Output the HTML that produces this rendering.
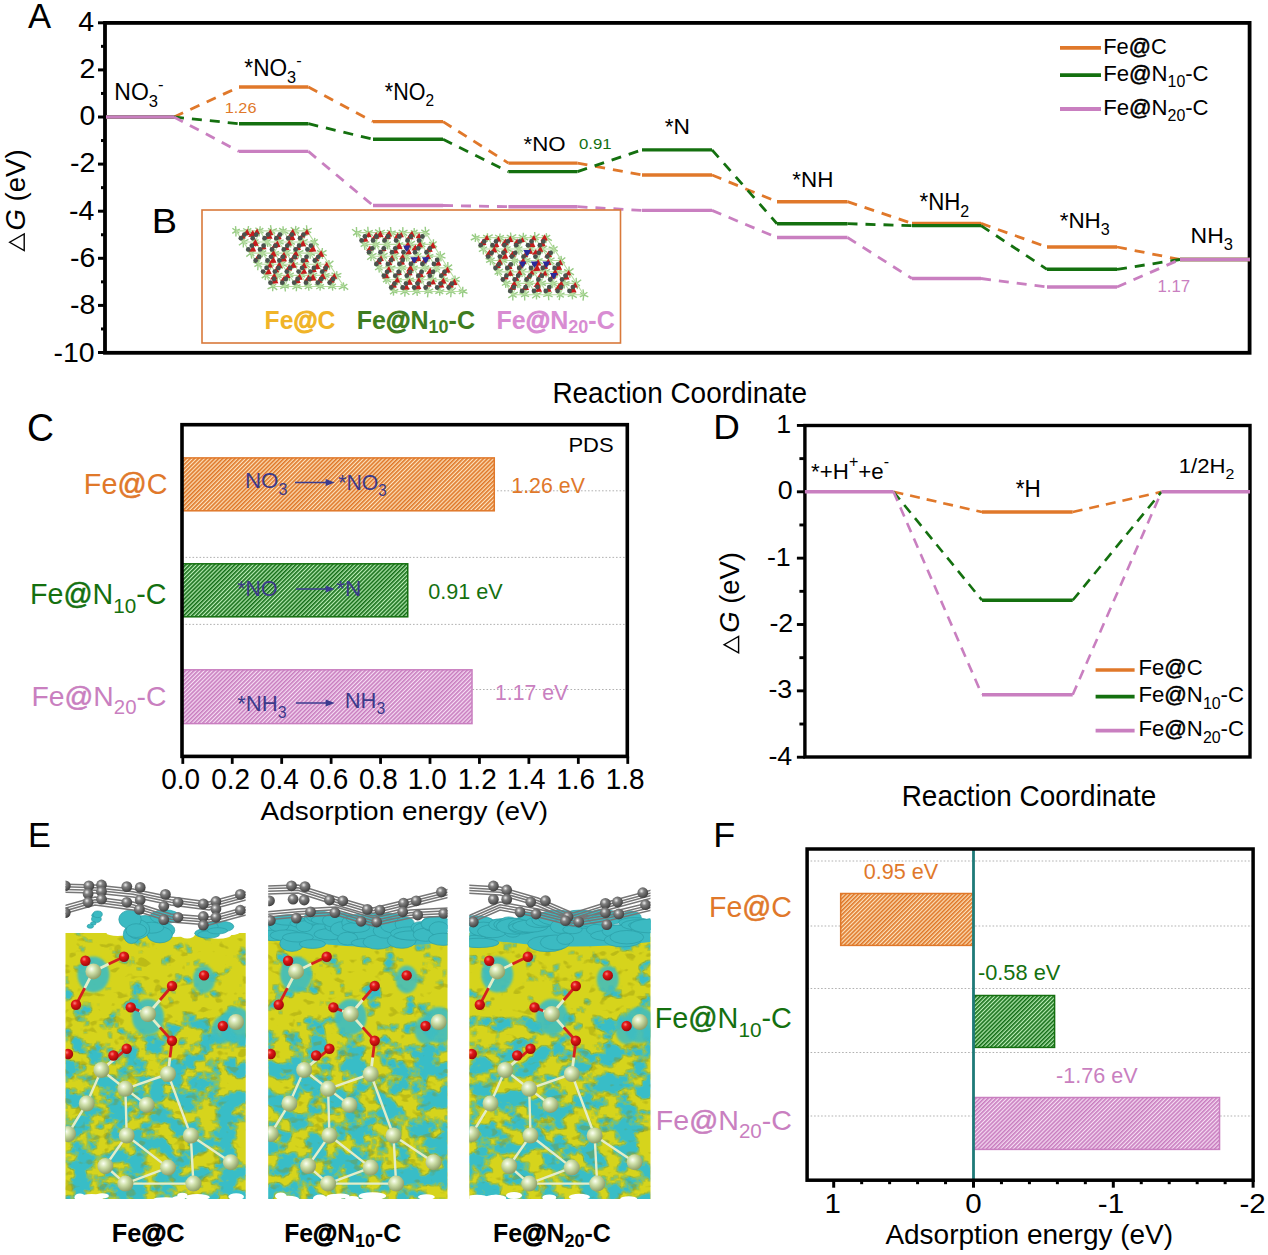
<!DOCTYPE html>
<html><head><meta charset="utf-8"><style>
html,body{margin:0;padding:0;background:#fff;}
svg{display:block;}
text{font-family:"Liberation Sans",sans-serif;}
</style></head><body>
<svg width="1268" height="1255" viewBox="0 0 1268 1255">
<rect width="1268" height="1255" fill="#fff"/>
<defs>
<pattern id="hO" width="2.88" height="2.88" patternUnits="userSpaceOnUse" patternTransform="rotate(-45)"><rect width="2.88" height="2.88" fill="#FCE3BE"/><rect width="2.88" height="1.65" fill="#E0782A"/></pattern>
<pattern id="hG" width="2.88" height="2.88" patternUnits="userSpaceOnUse" patternTransform="rotate(-45)"><rect width="2.88" height="2.88" fill="#B8ECB4"/><rect width="2.88" height="1.65" fill="#17701A"/></pattern>
<pattern id="hP" width="2.88" height="2.88" patternUnits="userSpaceOnUse" patternTransform="rotate(-45)"><rect width="2.88" height="2.88" fill="#F6DDF3"/><rect width="2.88" height="1.65" fill="#C97FC0"/></pattern>
</defs>
<rect x="105.0" y="22.9" width="1144.6" height="329.90000000000003" fill="none" stroke="#000" stroke-width="3.8"/>
<line x1="98.0" y1="22.799999999999997" x2="105.0" y2="22.799999999999997" stroke="#000" stroke-width="3"/>
<line x1="101.0" y1="46.349999999999994" x2="105.0" y2="46.349999999999994" stroke="#000" stroke-width="3"/>
<line x1="98.0" y1="69.9" x2="105.0" y2="69.9" stroke="#000" stroke-width="3"/>
<line x1="101.0" y1="93.45" x2="105.0" y2="93.45" stroke="#000" stroke-width="3"/>
<line x1="98.0" y1="117.0" x2="105.0" y2="117.0" stroke="#000" stroke-width="3"/>
<line x1="101.0" y1="140.55" x2="105.0" y2="140.55" stroke="#000" stroke-width="3"/>
<line x1="98.0" y1="164.1" x2="105.0" y2="164.1" stroke="#000" stroke-width="3"/>
<line x1="101.0" y1="187.65" x2="105.0" y2="187.65" stroke="#000" stroke-width="3"/>
<line x1="98.0" y1="211.2" x2="105.0" y2="211.2" stroke="#000" stroke-width="3"/>
<line x1="101.0" y1="234.75" x2="105.0" y2="234.75" stroke="#000" stroke-width="3"/>
<line x1="98.0" y1="258.3" x2="105.0" y2="258.3" stroke="#000" stroke-width="3"/>
<line x1="101.0" y1="281.85" x2="105.0" y2="281.85" stroke="#000" stroke-width="3"/>
<line x1="98.0" y1="305.4" x2="105.0" y2="305.4" stroke="#000" stroke-width="3"/>
<line x1="101.0" y1="328.95000000000005" x2="105.0" y2="328.95000000000005" stroke="#000" stroke-width="3"/>
<line x1="98.0" y1="352.5" x2="105.0" y2="352.5" stroke="#000" stroke-width="3"/>
<line x1="106" y1="117" x2="174" y2="117" stroke="#E0782A" stroke-width="3.4"/>
<line x1="174" y1="117" x2="239" y2="87" stroke="#E0782A" stroke-width="2.8" stroke-dasharray="10 8"/>
<line x1="239" y1="87" x2="308.4" y2="87" stroke="#E0782A" stroke-width="3.4"/>
<line x1="308.4" y1="87" x2="373" y2="121.6" stroke="#E0782A" stroke-width="2.8" stroke-dasharray="10 8"/>
<line x1="373" y1="121.6" x2="443" y2="121.6" stroke="#E0782A" stroke-width="3.4"/>
<line x1="443" y1="121.6" x2="508.4" y2="163.1" stroke="#E0782A" stroke-width="2.8" stroke-dasharray="10 8"/>
<line x1="508.4" y1="163.1" x2="577.5" y2="163.1" stroke="#E0782A" stroke-width="3.4"/>
<line x1="577.5" y1="163.1" x2="642" y2="175" stroke="#E0782A" stroke-width="2.8" stroke-dasharray="10 8"/>
<line x1="642" y1="175" x2="712" y2="175" stroke="#E0782A" stroke-width="3.4"/>
<line x1="712" y1="175" x2="777" y2="201.7" stroke="#E0782A" stroke-width="2.8" stroke-dasharray="10 8"/>
<line x1="777" y1="201.7" x2="847.5" y2="201.7" stroke="#E0782A" stroke-width="3.4"/>
<line x1="847.5" y1="201.7" x2="912" y2="223.4" stroke="#E0782A" stroke-width="2.8" stroke-dasharray="10 8"/>
<line x1="912" y1="223.4" x2="981" y2="223.4" stroke="#E0782A" stroke-width="3.4"/>
<line x1="981" y1="223.4" x2="1047" y2="247" stroke="#E0782A" stroke-width="2.8" stroke-dasharray="10 8"/>
<line x1="1047" y1="247" x2="1117" y2="247" stroke="#E0782A" stroke-width="3.4"/>
<line x1="1117" y1="247" x2="1180" y2="259.5" stroke="#E0782A" stroke-width="2.8" stroke-dasharray="10 8"/>
<line x1="1180" y1="259.5" x2="1250" y2="259.5" stroke="#E0782A" stroke-width="3.4"/>
<line x1="106" y1="117" x2="174" y2="117" stroke="#14700F" stroke-width="3.4"/>
<line x1="174" y1="117" x2="239" y2="123.7" stroke="#14700F" stroke-width="2.8" stroke-dasharray="10 8"/>
<line x1="239" y1="123.7" x2="308.4" y2="123.7" stroke="#14700F" stroke-width="3.4"/>
<line x1="308.4" y1="123.7" x2="373" y2="139.3" stroke="#14700F" stroke-width="2.8" stroke-dasharray="10 8"/>
<line x1="373" y1="139.3" x2="443" y2="139.3" stroke="#14700F" stroke-width="3.4"/>
<line x1="443" y1="139.3" x2="508.4" y2="171.6" stroke="#14700F" stroke-width="2.8" stroke-dasharray="10 8"/>
<line x1="508.4" y1="171.6" x2="577.5" y2="171.6" stroke="#14700F" stroke-width="3.4"/>
<line x1="577.5" y1="171.6" x2="642" y2="149.9" stroke="#14700F" stroke-width="2.8" stroke-dasharray="10 8"/>
<line x1="642" y1="149.9" x2="712" y2="149.9" stroke="#14700F" stroke-width="3.4"/>
<line x1="712" y1="149.9" x2="777" y2="223.7" stroke="#14700F" stroke-width="2.8" stroke-dasharray="10 8"/>
<line x1="777" y1="223.7" x2="847.5" y2="223.7" stroke="#14700F" stroke-width="3.4"/>
<line x1="847.5" y1="223.7" x2="912" y2="225.6" stroke="#14700F" stroke-width="2.8" stroke-dasharray="10 8"/>
<line x1="912" y1="225.6" x2="981" y2="225.6" stroke="#14700F" stroke-width="3.4"/>
<line x1="981" y1="225.6" x2="1047" y2="269.3" stroke="#14700F" stroke-width="2.8" stroke-dasharray="10 8"/>
<line x1="1047" y1="269.3" x2="1117" y2="269.3" stroke="#14700F" stroke-width="3.4"/>
<line x1="1117" y1="269.3" x2="1180" y2="259.5" stroke="#14700F" stroke-width="2.8" stroke-dasharray="10 8"/>
<line x1="1180" y1="259.5" x2="1250" y2="259.5" stroke="#14700F" stroke-width="3.4"/>
<line x1="106" y1="117" x2="174" y2="117" stroke="#C97FC0" stroke-width="3.4"/>
<line x1="174" y1="117" x2="239" y2="151.4" stroke="#C97FC0" stroke-width="2.8" stroke-dasharray="10 8"/>
<line x1="239" y1="151.4" x2="308.4" y2="151.4" stroke="#C97FC0" stroke-width="3.4"/>
<line x1="308.4" y1="151.4" x2="373" y2="205.5" stroke="#C97FC0" stroke-width="2.8" stroke-dasharray="10 8"/>
<line x1="373" y1="205.5" x2="443" y2="205.5" stroke="#C97FC0" stroke-width="3.4"/>
<line x1="443" y1="205.5" x2="508.4" y2="206.7" stroke="#C97FC0" stroke-width="2.8" stroke-dasharray="10 8"/>
<line x1="508.4" y1="206.7" x2="577.5" y2="206.7" stroke="#C97FC0" stroke-width="3.4"/>
<line x1="577.5" y1="206.7" x2="642" y2="210.4" stroke="#C97FC0" stroke-width="2.8" stroke-dasharray="10 8"/>
<line x1="642" y1="210.4" x2="712" y2="210.4" stroke="#C97FC0" stroke-width="3.4"/>
<line x1="712" y1="210.4" x2="777" y2="237.5" stroke="#C97FC0" stroke-width="2.8" stroke-dasharray="10 8"/>
<line x1="777" y1="237.5" x2="847.5" y2="237.5" stroke="#C97FC0" stroke-width="3.4"/>
<line x1="847.5" y1="237.5" x2="912" y2="278.5" stroke="#C97FC0" stroke-width="2.8" stroke-dasharray="10 8"/>
<line x1="912" y1="278.5" x2="981" y2="278.5" stroke="#C97FC0" stroke-width="3.4"/>
<line x1="981" y1="278.5" x2="1047" y2="287" stroke="#C97FC0" stroke-width="2.8" stroke-dasharray="10 8"/>
<line x1="1047" y1="287" x2="1117" y2="287" stroke="#C97FC0" stroke-width="3.4"/>
<line x1="1117" y1="287" x2="1180" y2="259.5" stroke="#C97FC0" stroke-width="2.8" stroke-dasharray="10 8"/>
<line x1="1180" y1="259.5" x2="1250" y2="259.5" stroke="#C97FC0" stroke-width="3.4"/>
<line x1="1060" y1="47.8" x2="1101" y2="47.8" stroke="#E0782A" stroke-width="3.8"/>
<line x1="1060" y1="75.1" x2="1101" y2="75.1" stroke="#14700F" stroke-width="3.8"/>
<line x1="1060" y1="109" x2="1101" y2="109" stroke="#C97FC0" stroke-width="3.8"/>
<rect x="202" y="210" width="418.5" height="133" fill="#fff" stroke="#D9793A" stroke-width="1.6"/>
<path d="M236.0,230.9l3.3,2.4M236.0,230.9l-0.1,5.5M236.0,230.9l-3.7,2.5M236.0,230.9l-3.6,-2.6M236.0,230.9l-0.5,-4.8M236.0,230.9l3.8,-1.8M247.8,230.9l4.2,2.1M247.8,230.9l-0.6,4.8M247.8,230.9l-4.0,1.7M247.8,230.9l-4.7,-2.4M247.8,230.9l0.7,-4.9M247.8,230.9l3.5,-2.5M259.7,230.9l3.8,2.2M259.7,230.9l-0.6,5.6M259.7,230.9l-3.7,2.7M259.7,230.9l-4.3,-3.1M259.7,230.9l0.5,-4.7M259.7,230.9l3.6,-2.8M271.5,230.9l3.7,2.7M271.5,230.9l0.3,4.8M271.5,230.9l-4.1,2.5M271.5,230.9l-3.4,-2.7M271.5,230.9l-1.0,-5.8M271.5,230.9l5.5,-2.3M283.3,230.9l5.2,2.8M283.3,230.9l-0.7,4.4M283.3,230.9l-5.1,2.4M283.3,230.9l-4.2,-2.8M283.3,230.9l-0.3,-4.7M283.3,230.9l3.4,-2.4M295.2,230.9l3.9,2.4M295.2,230.9l-0.4,4.1M295.2,230.9l-5.0,2.0M295.2,230.9l-4.5,-3.6M295.2,230.9l0.7,-5.1M295.2,230.9l4.2,-3.5M307.0,230.9l4.2,1.8M307.0,230.9l-0.3,5.0M307.0,230.9l-5.0,3.1M307.0,230.9l-4.0,-2.5M307.0,230.9l-0.5,-5.7M307.0,230.9l4.8,-2.8M243.4,242.0l3.9,2.0M243.4,242.0l-0.1,5.6M243.4,242.0l-4.5,3.3M243.4,242.0l-4.4,-3.5M243.4,242.0l0.5,-4.0M243.4,242.0l5.1,-2.6M255.2,242.0l4.2,1.6M255.2,242.0l0.4,5.0M255.2,242.0l-4.2,2.6M255.2,242.0l-3.3,-2.3M255.2,242.0l-0.7,-4.2M255.2,242.0l3.3,-2.5M267.1,242.0l4.4,3.6M267.1,242.0l0.7,5.0M267.1,242.0l-3.9,2.6M267.1,242.0l-4.7,-2.4M267.1,242.0l0.1,-4.7M267.1,242.0l3.8,-2.7M278.9,242.0l4.7,2.0M278.9,242.0l-0.4,4.7M278.9,242.0l-3.4,2.7M278.9,242.0l-4.6,-2.4M278.9,242.0l0.5,-4.7M278.9,242.0l4.8,-2.1M290.7,242.0l4.2,2.3M290.7,242.0l0.0,5.4M290.7,242.0l-4.6,2.8M290.7,242.0l-3.9,-2.2M290.7,242.0l0.1,-5.4M290.7,242.0l3.8,-3.0M302.6,242.0l5.1,2.7M302.6,242.0l-0.7,4.7M302.6,242.0l-5.2,2.1M302.6,242.0l-4.5,-2.1M302.6,242.0l-0.7,-5.6M302.6,242.0l5.2,-2.6M314.4,242.0l4.3,3.1M314.4,242.0l-0.4,5.1M314.4,242.0l-4.1,3.2M314.4,242.0l-4.0,-1.5M314.4,242.0l0.4,-4.1M314.4,242.0l3.3,-2.6M250.8,253.1l3.5,2.7M250.8,253.1l0.9,5.6M250.8,253.1l-4.5,3.5M250.8,253.1l-4.7,-3.1M250.8,253.1l0.8,-5.1M250.8,253.1l3.7,-1.7M262.6,253.1l4.1,2.9M262.6,253.1l-0.3,4.2M262.6,253.1l-5.3,2.5M262.6,253.1l-4.3,-1.7M262.6,253.1l0.1,-5.7M262.6,253.1l3.6,-2.5M274.5,253.1l4.7,2.2M274.5,253.1l-0.4,4.8M274.5,253.1l-4.0,2.6M274.5,253.1l-4.3,-2.2M274.5,253.1l-0.7,-4.9M274.5,253.1l4.5,-1.7M286.3,253.1l3.5,2.5M286.3,253.1l-0.4,5.5M286.3,253.1l-4.5,2.2M286.3,253.1l-4.6,-2.6M286.3,253.1l0.6,-4.3M286.3,253.1l4.3,-3.4M298.1,253.1l3.9,3.1M298.1,253.1l0.1,5.4M298.1,253.1l-3.7,2.7M298.1,253.1l-4.7,-2.1M298.1,253.1l-0.3,-4.5M298.1,253.1l5.3,-2.6M310.0,253.1l4.9,2.4M310.0,253.1l0.2,5.7M310.0,253.1l-4.0,2.2M310.0,253.1l-3.7,-1.7M310.0,253.1l-0.0,-4.8M310.0,253.1l3.8,-2.8M321.8,253.1l5.0,2.5M321.8,253.1l0.7,5.9M321.8,253.1l-4.5,2.6M321.8,253.1l-4.9,-2.8M321.8,253.1l0.6,-5.1M321.8,253.1l4.7,-2.8M258.2,264.3l3.8,2.9M258.2,264.3l-0.5,5.9M258.2,264.3l-3.8,2.3M258.2,264.3l-4.9,-2.3M258.2,264.3l0.4,-5.9M258.2,264.3l4.1,-1.7M270.0,264.3l4.1,1.8M270.0,264.3l0.6,5.4M270.0,264.3l-5.3,2.3M270.0,264.3l-5.2,-2.4M270.0,264.3l-0.3,-4.8M270.0,264.3l3.8,-1.8M281.9,264.3l5.3,2.1M281.9,264.3l0.3,4.7M281.9,264.3l-4.7,2.5M281.9,264.3l-4.4,-1.6M281.9,264.3l-0.1,-5.0M281.9,264.3l4.2,-3.0M293.7,264.3l3.7,3.0M293.7,264.3l-0.1,4.2M293.7,264.3l-4.4,3.0M293.7,264.3l-5.3,-2.2M293.7,264.3l0.6,-4.2M293.7,264.3l4.4,-1.7M305.5,264.3l4.5,3.2M305.5,264.3l0.4,5.3M305.5,264.3l-5.0,2.5M305.5,264.3l-5.0,-2.4M305.5,264.3l0.9,-5.3M305.5,264.3l3.7,-2.1M317.4,264.3l4.1,2.3M317.4,264.3l-0.4,5.3M317.4,264.3l-3.8,2.1M317.4,264.3l-4.4,-2.9M317.4,264.3l-0.6,-5.7M317.4,264.3l3.8,-1.9M329.2,264.3l3.3,2.7M329.2,264.3l0.3,5.4M329.2,264.3l-4.5,2.4M329.2,264.3l-4.1,-2.7M329.2,264.3l-0.3,-4.3M329.2,264.3l4.2,-3.4M265.6,275.4l4.2,2.9M265.6,275.4l-0.4,4.7M265.6,275.4l-3.9,2.7M265.6,275.4l-3.2,-2.5M265.6,275.4l0.0,-4.5M265.6,275.4l4.3,-2.0M277.4,275.4l4.3,2.2M277.4,275.4l-0.1,5.5M277.4,275.4l-4.8,3.1M277.4,275.4l-4.2,-1.7M277.4,275.4l-0.6,-4.2M277.4,275.4l5.0,-2.3M289.3,275.4l4.0,1.8M289.3,275.4l0.2,5.5M289.3,275.4l-5.0,2.2M289.3,275.4l-3.6,-2.3M289.3,275.4l-0.2,-4.4M289.3,275.4l4.5,-2.5M301.1,275.4l4.1,1.8M301.1,275.4l-0.4,4.0M301.1,275.4l-5.3,2.3M301.1,275.4l-3.7,-3.0M301.1,275.4l0.1,-5.2M301.1,275.4l5.3,-2.7M312.9,275.4l3.8,2.6M312.9,275.4l-0.6,4.9M312.9,275.4l-4.8,2.6M312.9,275.4l-5.2,-1.9M312.9,275.4l0.3,-5.0M312.9,275.4l4.3,-2.4M324.8,275.4l4.6,2.0M324.8,275.4l0.8,4.9M324.8,275.4l-4.4,2.2M324.8,275.4l-5.1,-3.1M324.8,275.4l0.6,-4.2M324.8,275.4l4.8,-2.1M336.6,275.4l4.4,1.7M336.6,275.4l0.4,4.1M336.6,275.4l-5.1,2.9M336.6,275.4l-5.1,-2.6M336.6,275.4l0.3,-4.3M336.6,275.4l4.8,-2.0M273.0,286.5l4.2,3.4M273.0,286.5l-0.4,4.7M273.0,286.5l-5.4,2.4M273.0,286.5l-3.9,-2.9M273.0,286.5l0.4,-5.0M273.0,286.5l3.2,-2.5M284.8,286.5l4.1,1.6M284.8,286.5l0.6,5.0M284.8,286.5l-4.6,2.2M284.8,286.5l-4.7,-2.5M284.8,286.5l-0.3,-4.9M284.8,286.5l4.4,-2.0M296.7,286.5l5.3,2.3M296.7,286.5l-0.4,4.7M296.7,286.5l-4.3,2.7M296.7,286.5l-3.8,-2.4M296.7,286.5l-0.8,-4.4M296.7,286.5l3.9,-1.8M308.5,286.5l3.8,2.1M308.5,286.5l0.4,4.3M308.5,286.5l-3.7,2.3M308.5,286.5l-4.0,-1.5M308.5,286.5l-0.6,-4.9M308.5,286.5l3.2,-2.5M320.3,286.5l4.2,2.3M320.3,286.5l-0.3,4.1M320.3,286.5l-4.1,2.5M320.3,286.5l-5.6,-2.1M320.3,286.5l-0.4,-4.2M320.3,286.5l3.7,-2.2M332.2,286.5l4.0,2.5M332.2,286.5l0.5,4.1M332.2,286.5l-4.1,2.0M332.2,286.5l-4.0,-2.9M332.2,286.5l0.7,-4.5M332.2,286.5l3.7,-2.6M344.0,286.5l4.2,3.1M344.0,286.5l0.2,4.2M344.0,286.5l-5.3,2.6M344.0,286.5l-3.4,-2.1M344.0,286.5l-0.7,-4.1M344.0,286.5l3.3,-2.4" stroke="#98CC84" stroke-width="1.4" fill="none"/>
<path d="M236.0,230.9L307.0,230.9M243.4,242.0L314.4,242.0M250.8,253.1L321.8,253.1M258.2,264.3L329.2,264.3M265.6,275.4L336.6,275.4M273.0,286.5L344.0,286.5M236.0,230.9L273.0,286.5M247.8,230.9L284.8,286.5M259.7,230.9L296.7,286.5M271.5,230.9L308.5,286.5M283.3,230.9L320.3,286.5M295.2,230.9L332.2,286.5M307.0,230.9L344.0,286.5M243.4,242.0L247.8,230.9M255.2,242.0L259.7,230.9M267.1,242.0L271.5,230.9M278.9,242.0L283.3,230.9M290.7,242.0L295.2,230.9M302.6,242.0L307.0,230.9M250.8,253.1L255.2,242.0M262.6,253.1L267.1,242.0M274.5,253.1L278.9,242.0M286.3,253.1L290.7,242.0M298.1,253.1L302.6,242.0M310.0,253.1L314.4,242.0M258.2,264.3L262.6,253.1M270.0,264.3L274.5,253.1M281.9,264.3L286.3,253.1M293.7,264.3L298.1,253.1M305.5,264.3L310.0,253.1M317.4,264.3L321.8,253.1M265.6,275.4L270.0,264.3M277.4,275.4L281.9,264.3M289.3,275.4L293.7,264.3M301.1,275.4L305.5,264.3M312.9,275.4L317.4,264.3M324.8,275.4L329.2,264.3M273.0,286.5L277.4,275.4M284.8,286.5L289.3,275.4M296.7,286.5L301.1,275.4M308.5,286.5L312.9,275.4M320.3,286.5L324.8,275.4M332.2,286.5L336.6,275.4" stroke="#B6DCA0" stroke-width="1.1" fill="none"/>
<path d="M239.4,238.8L243.1,233.3L245.5,238.5Z" fill="#C61C1C"/>
<path d="M242.9,235.4L247.3,228.8L250.2,235.0Z" fill="#C61C1C"/>
<path d="M248.2,237.0L252.9,230.0L256.0,236.6Z" fill="#C61C1C"/>
<path d="M253.4,234.2L257.2,228.5L259.8,233.9Z" fill="#C61C1C"/>
<path d="M264.6,239.1L269.4,232.0L272.6,238.7Z" fill="#C61C1C"/>
<path d="M266.3,235.3L270.5,229.1L273.3,235.0Z" fill="#C61C1C"/>
<path d="M274.1,239.7L278.7,232.9L281.7,239.3Z" fill="#C61C1C"/>
<path d="M287.5,240.3L292.2,233.2L295.3,239.9Z" fill="#C61C1C"/>
<path d="M288.2,235.9L292.9,228.8L296.1,235.5Z" fill="#C61C1C"/>
<path d="M299.1,237.7L302.8,232.2L305.2,237.4Z" fill="#C61C1C"/>
<path d="M303.1,234.8L307.1,228.9L309.7,234.5Z" fill="#C61C1C"/>
<path d="M248.9,251.8L253.3,245.3L256.2,251.4Z" fill="#C61C1C"/>
<path d="M250.8,246.2L255.5,239.1L258.7,245.8Z" fill="#C61C1C"/>
<path d="M260.3,249.5L264.0,243.9L266.5,249.2Z" fill="#C61C1C"/>
<path d="M271.2,248.1L275.1,242.2L277.8,247.8Z" fill="#C61C1C"/>
<path d="M272.9,247.4L277.5,240.5L280.6,247.0Z" fill="#C61C1C"/>
<path d="M283.2,250.3L286.9,244.7L289.4,250.0Z" fill="#C61C1C"/>
<path d="M285.4,245.8L289.4,239.7L292.1,245.5Z" fill="#C61C1C"/>
<path d="M294.4,250.3L298.4,244.3L301.0,250.0Z" fill="#C61C1C"/>
<path d="M298.7,246.7L303.2,240.0L306.1,246.3Z" fill="#C61C1C"/>
<path d="M308.5,251.9L313.2,244.8L316.3,251.5Z" fill="#C61C1C"/>
<path d="M254.5,259.4L258.3,253.7L260.8,259.1Z" fill="#C61C1C"/>
<path d="M269.0,263.1L273.5,256.4L276.5,262.7Z" fill="#C61C1C"/>
<path d="M269.2,256.8L273.7,250.1L276.7,256.4Z" fill="#C61C1C"/>
<path d="M279.3,261.7L283.9,254.8L286.9,261.3Z" fill="#C61C1C"/>
<path d="M279.9,258.1L284.1,251.7L287.0,257.7Z" fill="#C61C1C"/>
<path d="M290.1,259.6L294.9,252.6L298.0,259.2Z" fill="#C61C1C"/>
<path d="M292.1,256.4L296.1,250.3L298.8,256.0Z" fill="#C61C1C"/>
<path d="M302.0,262.3L306.1,256.1L308.9,261.9Z" fill="#C61C1C"/>
<path d="M312.7,261.5L316.6,255.7L319.2,261.1Z" fill="#C61C1C"/>
<path d="M316.7,257.1L321.2,250.3L324.3,256.7Z" fill="#C61C1C"/>
<path d="M264.7,274.4L268.9,268.1L271.7,274.0Z" fill="#C61C1C"/>
<path d="M266.4,267.8L270.3,261.9L272.9,267.5Z" fill="#C61C1C"/>
<path d="M272.9,272.5L276.7,266.8L279.2,272.2Z" fill="#C61C1C"/>
<path d="M275.1,268.3L279.6,261.6L282.5,268.0Z" fill="#C61C1C"/>
<path d="M284.9,270.8L289.2,264.3L292.1,270.5Z" fill="#C61C1C"/>
<path d="M289.2,268.1L293.6,261.4L296.6,267.7Z" fill="#C61C1C"/>
<path d="M300.4,274.0L304.4,267.9L307.1,273.6Z" fill="#C61C1C"/>
<path d="M300.1,268.4L304.3,262.1L307.1,268.1Z" fill="#C61C1C"/>
<path d="M310.4,272.5L314.2,266.8L316.7,272.1Z" fill="#C61C1C"/>
<path d="M312.9,269.5L317.3,262.8L320.3,269.1Z" fill="#C61C1C"/>
<path d="M321.4,271.6L325.0,266.2L327.5,271.3Z" fill="#C61C1C"/>
<path d="M322.7,267.9L326.8,261.7L329.6,267.6Z" fill="#C61C1C"/>
<path d="M270.9,283.7L275.4,276.9L278.4,283.3Z" fill="#C61C1C"/>
<path d="M270.0,279.4L274.5,272.8L277.4,279.1Z" fill="#C61C1C"/>
<path d="M280.4,281.0L284.2,275.4L286.6,280.7Z" fill="#C61C1C"/>
<path d="M284.0,278.3L287.9,272.5L290.5,278.0Z" fill="#C61C1C"/>
<path d="M293.0,283.5L297.6,276.6L300.7,283.1Z" fill="#C61C1C"/>
<path d="M295.4,280.1L299.8,273.5L302.7,279.7Z" fill="#C61C1C"/>
<path d="M303.9,281.5L308.6,274.5L311.7,281.1Z" fill="#C61C1C"/>
<path d="M308.5,280.8L313.2,273.8L316.3,280.4Z" fill="#C61C1C"/>
<path d="M315.7,283.2L319.9,277.0L322.6,282.8Z" fill="#C61C1C"/>
<path d="M318.2,279.5L322.9,272.5L326.0,279.1Z" fill="#C61C1C"/>
<path d="M327.2,283.0L331.7,276.3L334.7,282.6Z" fill="#C61C1C"/>
<path d="M330.5,279.1L334.5,273.1L337.2,278.8Z" fill="#C61C1C"/>
<circle cx="244.4" cy="234.6" r="2.4" fill="#4A524D"/>
<circle cx="240.9" cy="238.2" r="2.4" fill="#4A524D"/>
<circle cx="256.2" cy="234.6" r="2.4" fill="#4A524D"/>
<circle cx="252.7" cy="238.2" r="2.4" fill="#4A524D"/>
<circle cx="268.0" cy="234.6" r="2.4" fill="#4A524D"/>
<circle cx="264.6" cy="238.2" r="2.4" fill="#4A524D"/>
<circle cx="279.9" cy="234.6" r="2.4" fill="#4A524D"/>
<circle cx="276.4" cy="238.2" r="2.4" fill="#4A524D"/>
<circle cx="291.7" cy="234.6" r="2.4" fill="#4A524D"/>
<circle cx="288.2" cy="238.2" r="2.4" fill="#4A524D"/>
<circle cx="303.5" cy="234.6" r="2.4" fill="#4A524D"/>
<circle cx="300.1" cy="238.2" r="2.4" fill="#4A524D"/>
<circle cx="251.8" cy="245.7" r="2.4" fill="#4A524D"/>
<circle cx="248.3" cy="249.4" r="2.4" fill="#4A524D"/>
<circle cx="263.6" cy="245.7" r="2.4" fill="#4A524D"/>
<circle cx="260.1" cy="249.4" r="2.4" fill="#4A524D"/>
<circle cx="275.4" cy="245.7" r="2.4" fill="#4A524D"/>
<circle cx="272.0" cy="249.4" r="2.4" fill="#4A524D"/>
<circle cx="287.3" cy="245.7" r="2.4" fill="#4A524D"/>
<circle cx="283.8" cy="249.4" r="2.4" fill="#4A524D"/>
<circle cx="299.1" cy="245.7" r="2.4" fill="#4A524D"/>
<circle cx="295.6" cy="249.4" r="2.4" fill="#4A524D"/>
<circle cx="310.9" cy="245.7" r="2.4" fill="#4A524D"/>
<circle cx="307.5" cy="249.4" r="2.4" fill="#4A524D"/>
<circle cx="259.2" cy="256.8" r="2.4" fill="#4A524D"/>
<circle cx="255.7" cy="260.5" r="2.4" fill="#4A524D"/>
<circle cx="271.0" cy="256.8" r="2.4" fill="#4A524D"/>
<circle cx="267.5" cy="260.5" r="2.4" fill="#4A524D"/>
<circle cx="282.8" cy="256.8" r="2.4" fill="#4A524D"/>
<circle cx="279.4" cy="260.5" r="2.4" fill="#4A524D"/>
<circle cx="294.7" cy="256.8" r="2.4" fill="#4A524D"/>
<circle cx="291.2" cy="260.5" r="2.4" fill="#4A524D"/>
<circle cx="306.5" cy="256.8" r="2.4" fill="#4A524D"/>
<circle cx="303.0" cy="260.5" r="2.4" fill="#4A524D"/>
<circle cx="318.3" cy="256.8" r="2.4" fill="#4A524D"/>
<circle cx="314.9" cy="260.5" r="2.4" fill="#4A524D"/>
<circle cx="266.6" cy="267.9" r="2.4" fill="#4A524D"/>
<circle cx="263.1" cy="271.6" r="2.4" fill="#4A524D"/>
<circle cx="278.4" cy="267.9" r="2.4" fill="#4A524D"/>
<circle cx="274.9" cy="271.6" r="2.4" fill="#4A524D"/>
<circle cx="290.2" cy="267.9" r="2.4" fill="#4A524D"/>
<circle cx="286.8" cy="271.6" r="2.4" fill="#4A524D"/>
<circle cx="302.1" cy="267.9" r="2.4" fill="#4A524D"/>
<circle cx="298.6" cy="271.6" r="2.4" fill="#4A524D"/>
<circle cx="313.9" cy="267.9" r="2.4" fill="#4A524D"/>
<circle cx="310.4" cy="271.6" r="2.4" fill="#4A524D"/>
<circle cx="325.7" cy="267.9" r="2.4" fill="#4A524D"/>
<circle cx="322.3" cy="271.6" r="2.4" fill="#4A524D"/>
<circle cx="274.0" cy="279.0" r="2.4" fill="#4A524D"/>
<circle cx="270.5" cy="282.7" r="2.4" fill="#4A524D"/>
<circle cx="285.8" cy="279.0" r="2.4" fill="#4A524D"/>
<circle cx="282.3" cy="282.7" r="2.4" fill="#4A524D"/>
<circle cx="297.6" cy="279.0" r="2.4" fill="#4A524D"/>
<circle cx="294.2" cy="282.7" r="2.4" fill="#4A524D"/>
<circle cx="309.5" cy="279.0" r="2.4" fill="#4A524D"/>
<circle cx="306.0" cy="282.7" r="2.4" fill="#4A524D"/>
<circle cx="321.3" cy="279.0" r="2.4" fill="#4A524D"/>
<circle cx="317.8" cy="282.7" r="2.4" fill="#4A524D"/>
<circle cx="333.1" cy="279.0" r="2.4" fill="#4A524D"/>
<circle cx="329.7" cy="282.7" r="2.4" fill="#4A524D"/>
<path d="M356.7,232.6l4.1,3.3M356.7,232.6l0.0,4.7M356.7,232.6l-3.6,2.8M356.7,232.6l-4.7,-3.3M356.7,232.6l-0.3,-5.6M356.7,232.6l4.9,-2.2M368.2,232.6l4.6,3.0M368.2,232.6l0.3,5.4M368.2,232.6l-4.1,2.8M368.2,232.6l-4.4,-3.1M368.2,232.6l-0.4,-5.9M368.2,232.6l4.6,-2.3M379.7,232.6l4.8,1.8M379.7,232.6l0.5,5.3M379.7,232.6l-4.8,2.9M379.7,232.6l-4.7,-3.0M379.7,232.6l-0.3,-5.3M379.7,232.6l5.1,-2.4M391.2,232.6l5.1,2.6M391.2,232.6l-0.7,5.3M391.2,232.6l-5.5,2.1M391.2,232.6l-4.4,-2.6M391.2,232.6l-0.7,-5.6M391.2,232.6l4.6,-1.8M402.7,232.6l4.5,3.0M402.7,232.6l-0.3,4.3M402.7,232.6l-4.7,2.1M402.7,232.6l-4.0,-2.7M402.7,232.6l0.2,-5.5M402.7,232.6l4.8,-2.5M414.2,232.6l4.0,1.5M414.2,232.6l0.1,5.3M414.2,232.6l-4.4,3.1M414.2,232.6l-3.4,-2.2M414.2,232.6l-0.0,-4.5M414.2,232.6l3.3,-2.7M425.7,232.6l3.9,1.9M425.7,232.6l0.4,4.0M425.7,232.6l-4.1,2.4M425.7,232.6l-4.4,-2.8M425.7,232.6l-0.5,-5.8M425.7,232.6l3.7,-3.1M364.1,244.4l4.3,2.1M364.1,244.4l0.8,5.6M364.1,244.4l-3.4,2.2M364.1,244.4l-3.5,-2.2M364.1,244.4l0.1,-4.7M364.1,244.4l5.2,-2.8M375.6,244.4l3.9,2.9M375.6,244.4l-0.6,5.3M375.6,244.4l-3.6,2.3M375.6,244.4l-4.4,-2.7M375.6,244.4l0.9,-5.9M375.6,244.4l4.2,-2.2M387.1,244.4l3.2,2.5M387.1,244.4l0.7,5.1M387.1,244.4l-3.8,2.0M387.1,244.4l-4.9,-3.1M387.1,244.4l-0.2,-4.9M387.1,244.4l3.7,-2.7M398.6,244.4l3.7,3.0M398.6,244.4l-0.9,5.8M398.6,244.4l-4.0,2.1M398.6,244.4l-3.8,-3.2M398.6,244.4l-0.1,-4.6M398.6,244.4l4.7,-1.7M410.1,244.4l4.5,2.2M410.1,244.4l0.7,5.2M410.1,244.4l-3.9,2.4M410.1,244.4l-4.6,-3.3M410.1,244.4l-0.9,-5.0M410.1,244.4l4.8,-3.3M421.6,244.4l3.7,2.6M421.6,244.4l0.3,4.3M421.6,244.4l-4.3,1.6M421.6,244.4l-4.2,-2.6M421.6,244.4l0.3,-5.2M421.6,244.4l3.8,-1.8M433.1,244.4l3.8,2.7M433.1,244.4l-0.1,4.7M433.1,244.4l-4.2,2.8M433.1,244.4l-4.1,-2.3M433.1,244.4l0.4,-5.2M433.1,244.4l3.5,-2.9M371.5,256.2l5.1,2.8M371.5,256.2l-0.7,5.0M371.5,256.2l-4.3,3.6M371.5,256.2l-4.5,-2.5M371.5,256.2l0.4,-5.3M371.5,256.2l5.0,-2.9M383.0,256.2l4.2,2.2M383.0,256.2l-0.5,4.4M383.0,256.2l-4.7,3.2M383.0,256.2l-5.3,-2.1M383.0,256.2l0.3,-4.9M383.0,256.2l4.6,-3.1M394.5,256.2l3.4,2.7M394.5,256.2l0.0,5.1M394.5,256.2l-4.0,2.3M394.5,256.2l-4.8,-2.0M394.5,256.2l0.4,-4.1M394.5,256.2l4.6,-3.3M406.0,256.2l4.3,3.1M406.0,256.2l0.9,5.4M406.0,256.2l-5.6,2.1M406.0,256.2l-3.4,-2.3M406.0,256.2l0.5,-4.4M406.0,256.2l5.3,-2.7M417.5,256.2l3.5,2.4M417.5,256.2l0.4,5.8M417.5,256.2l-4.2,3.1M417.5,256.2l-3.8,-2.0M417.5,256.2l0.2,-4.1M417.5,256.2l3.8,-2.9M429.0,256.2l3.8,1.5M429.0,256.2l-0.1,5.5M429.0,256.2l-3.9,1.6M429.0,256.2l-4.1,-2.2M429.0,256.2l0.2,-5.0M429.0,256.2l4.4,-1.7M440.5,256.2l5.0,1.9M440.5,256.2l0.6,5.2M440.5,256.2l-5.0,2.9M440.5,256.2l-4.5,-2.7M440.5,256.2l-0.4,-5.1M440.5,256.2l4.5,-3.1M378.9,267.9l3.7,2.2M378.9,267.9l0.4,4.7M378.9,267.9l-3.9,1.9M378.9,267.9l-4.4,-3.0M378.9,267.9l-0.8,-5.3M378.9,267.9l3.3,-2.6M390.4,267.9l3.8,2.4M390.4,267.9l-0.7,4.9M390.4,267.9l-4.7,3.1M390.4,267.9l-5.1,-1.9M390.4,267.9l-0.7,-4.2M390.4,267.9l5.0,-1.9M401.9,267.9l3.9,1.8M401.9,267.9l-0.9,5.3M401.9,267.9l-3.9,1.7M401.9,267.9l-4.0,-2.5M401.9,267.9l-0.4,-4.6M401.9,267.9l4.2,-2.2M413.4,267.9l3.8,2.0M413.4,267.9l-0.6,5.3M413.4,267.9l-4.4,2.0M413.4,267.9l-4.0,-3.0M413.4,267.9l0.2,-5.1M413.4,267.9l4.3,-2.0M424.9,267.9l3.8,1.5M424.9,267.9l0.4,4.1M424.9,267.9l-4.6,1.9M424.9,267.9l-3.3,-2.3M424.9,267.9l-0.1,-5.8M424.9,267.9l4.3,-2.3M436.4,267.9l3.7,2.1M436.4,267.9l0.5,4.3M436.4,267.9l-4.0,2.6M436.4,267.9l-3.4,-2.6M436.4,267.9l-0.4,-4.5M436.4,267.9l3.7,-2.7M447.9,267.9l4.5,2.1M447.9,267.9l1.0,5.8M447.9,267.9l-4.9,3.2M447.9,267.9l-4.4,-3.0M447.9,267.9l-0.1,-5.9M447.9,267.9l4.2,-3.3M386.3,279.7l4.8,2.3M386.3,279.7l-0.3,4.3M386.3,279.7l-3.3,2.4M386.3,279.7l-3.8,-1.7M386.3,279.7l-0.2,-5.9M386.3,279.7l3.9,-2.5M397.8,279.7l4.0,2.2M397.8,279.7l-0.4,5.4M397.8,279.7l-3.6,2.7M397.8,279.7l-4.9,-3.2M397.8,279.7l0.2,-4.9M397.8,279.7l3.8,-1.4M409.3,279.7l5.2,2.0M409.3,279.7l0.1,4.1M409.3,279.7l-5.2,2.9M409.3,279.7l-4.1,-2.4M409.3,279.7l-0.6,-4.1M409.3,279.7l4.6,-1.9M420.8,279.7l3.2,2.6M420.8,279.7l0.4,4.1M420.8,279.7l-3.5,2.2M420.8,279.7l-4.4,-2.0M420.8,279.7l-0.3,-4.1M420.8,279.7l4.6,-3.8M432.3,279.7l4.6,2.0M432.3,279.7l0.2,5.1M432.3,279.7l-3.6,2.9M432.3,279.7l-4.7,-1.9M432.3,279.7l0.8,-5.1M432.3,279.7l4.1,-1.7M443.8,279.7l4.8,1.8M443.8,279.7l0.0,5.1M443.8,279.7l-4.4,2.8M443.8,279.7l-4.8,-3.3M443.8,279.7l-0.3,-4.9M443.8,279.7l4.1,-1.8M455.3,279.7l4.3,1.8M455.3,279.7l0.8,5.5M455.3,279.7l-4.2,1.9M455.3,279.7l-3.8,-1.6M455.3,279.7l-0.4,-4.2M455.3,279.7l4.4,-2.7M393.7,291.5l3.7,1.7M393.7,291.5l-0.3,4.1M393.7,291.5l-3.7,2.7M393.7,291.5l-3.7,-1.9M393.7,291.5l-0.1,-4.6M393.7,291.5l4.6,-2.2M405.2,291.5l4.2,3.3M405.2,291.5l-0.5,5.1M405.2,291.5l-4.8,2.9M405.2,291.5l-5.0,-3.2M405.2,291.5l0.4,-5.4M405.2,291.5l4.6,-3.2M416.7,291.5l3.8,2.0M416.7,291.5l0.7,4.3M416.7,291.5l-4.4,3.1M416.7,291.5l-3.7,-1.8M416.7,291.5l0.5,-5.1M416.7,291.5l3.2,-2.6M428.2,291.5l4.4,1.8M428.2,291.5l-0.7,5.9M428.2,291.5l-3.9,2.1M428.2,291.5l-4.1,-2.3M428.2,291.5l-0.2,-4.0M428.2,291.5l5.0,-2.7M439.7,291.5l3.5,2.4M439.7,291.5l-0.0,4.3M439.7,291.5l-4.4,2.1M439.7,291.5l-4.4,-3.5M439.7,291.5l-0.6,-4.6M439.7,291.5l4.6,-1.8M451.2,291.5l4.3,2.3M451.2,291.5l-0.5,5.8M451.2,291.5l-5.2,2.9M451.2,291.5l-3.6,-2.2M451.2,291.5l0.5,-4.8M451.2,291.5l4.6,-3.7M462.7,291.5l4.8,1.8M462.7,291.5l0.0,5.8M462.7,291.5l-3.8,2.4M462.7,291.5l-4.0,-1.9M462.7,291.5l0.1,-4.7M462.7,291.5l4.1,-1.9" stroke="#98CC84" stroke-width="1.4" fill="none"/>
<path d="M356.7,232.6L425.7,232.6M364.1,244.4L433.1,244.4M371.5,256.2L440.5,256.2M378.9,267.9L447.9,267.9M386.3,279.7L455.3,279.7M393.7,291.5L462.7,291.5M356.7,232.6L393.7,291.5M368.2,232.6L405.2,291.5M379.7,232.6L416.7,291.5M391.2,232.6L428.2,291.5M402.7,232.6L439.7,291.5M414.2,232.6L451.2,291.5M425.7,232.6L462.7,291.5M364.1,244.4L368.2,232.6M375.6,244.4L379.7,232.6M387.1,244.4L391.2,232.6M398.6,244.4L402.7,232.6M410.1,244.4L414.2,232.6M421.6,244.4L425.7,232.6M371.5,256.2L375.6,244.4M383.0,256.2L387.1,244.4M394.5,256.2L398.6,244.4M406.0,256.2L410.1,244.4M417.5,256.2L421.6,244.4M429.0,256.2L433.1,244.4M378.9,267.9L383.0,256.2M390.4,267.9L394.5,256.2M401.9,267.9L406.0,256.2M413.4,267.9L417.5,256.2M424.9,267.9L429.0,256.2M436.4,267.9L440.5,256.2M386.3,279.7L390.4,267.9M397.8,279.7L401.9,267.9M409.3,279.7L413.4,267.9M420.8,279.7L424.9,267.9M432.3,279.7L436.4,267.9M443.8,279.7L447.9,267.9M393.7,291.5L397.8,279.7M405.2,291.5L409.3,279.7M416.7,291.5L420.8,279.7M428.2,291.5L432.3,279.7M439.7,291.5L443.8,279.7M451.2,291.5L455.3,279.7" stroke="#B6DCA0" stroke-width="1.1" fill="none"/>
<path d="M361.6,242.0L365.7,235.9L368.3,241.6Z" fill="#C61C1C"/>
<path d="M365.1,237.2L369.0,231.4L371.6,236.9Z" fill="#C61C1C"/>
<path d="M371.4,239.1L376.2,231.9L379.4,238.7Z" fill="#C61C1C"/>
<path d="M375.8,237.4L380.5,230.5L383.5,237.0Z" fill="#C61C1C"/>
<path d="M383.2,239.4L387.9,232.4L390.9,239.0Z" fill="#C61C1C"/>
<path d="M385.0,237.0L389.3,230.5L392.2,236.6Z" fill="#C61C1C"/>
<path d="M393.8,238.6L397.8,232.5L400.6,238.2Z" fill="#C61C1C"/>
<path d="M397.6,237.5L401.4,231.9L403.9,237.2Z" fill="#C61C1C"/>
<path d="M405.9,239.6L410.5,232.7L413.6,239.2Z" fill="#C61C1C"/>
<path d="M407.9,237.1L412.1,230.8L414.9,236.7Z" fill="#C61C1C"/>
<path d="M415.5,238.3L419.2,232.8L421.6,238.0Z" fill="#C61C1C"/>
<path d="M366.2,251.1L370.0,245.4L372.6,250.8Z" fill="#C61C1C"/>
<path d="M380.3,251.4L384.0,245.9L386.5,251.1Z" fill="#C61C1C"/>
<path d="M391.2,253.7L395.7,247.0L398.6,253.3Z" fill="#C61C1C"/>
<path d="M394.7,249.3L399.4,242.3L402.5,248.9Z" fill="#C61C1C"/>
<path d="M405.3,254.4L409.2,248.6L411.7,254.0Z" fill="#C61C1C"/>
<path d="M403.6,248.0L408.1,241.2L411.2,247.6Z" fill="#C61C1C"/>
<path d="M411.4,250.5L415.4,244.6L418.1,250.2Z" fill="#C61C1C"/>
<path d="M415.8,247.6L420.2,240.9L423.1,247.2Z" fill="#C61C1C"/>
<path d="M425.0,252.2L429.7,245.3L432.7,251.8Z" fill="#C61C1C"/>
<path d="M428.8,248.6L433.1,242.1L436.0,248.3Z" fill="#C61C1C"/>
<path d="M374.2,264.6L378.7,257.8L381.8,264.2Z" fill="#C61C1C"/>
<path d="M377.0,261.4L381.1,255.3L383.8,261.1Z" fill="#C61C1C"/>
<path d="M386.2,265.3L389.8,259.9L392.3,265.0Z" fill="#C61C1C"/>
<path d="M388.0,261.1L392.2,254.7L395.0,260.7Z" fill="#C61C1C"/>
<path d="M397.8,264.9L402.1,258.5L405.0,264.6Z" fill="#C61C1C"/>
<path d="M399.0,259.4L402.8,253.7L405.4,259.1Z" fill="#C61C1C"/>
<path d="M410.4,263.0L414.5,256.9L417.2,262.7Z" fill="#C61C1C"/>
<path d="M414.6,261.3L418.5,255.3L421.2,261.0Z" fill="#C61C1C"/>
<path d="M420.7,263.5L424.3,258.0L426.7,263.2Z" fill="#C61C1C"/>
<path d="M424.3,259.3L428.3,253.4L430.9,259.0Z" fill="#C61C1C"/>
<path d="M434.5,265.8L438.6,259.7L441.3,265.5Z" fill="#C61C1C"/>
<path d="M382.3,278.4L386.5,272.1L389.2,278.0Z" fill="#C61C1C"/>
<path d="M384.5,272.6L389.0,265.9L392.0,272.2Z" fill="#C61C1C"/>
<path d="M395.1,275.5L399.2,269.3L401.9,275.1Z" fill="#C61C1C"/>
<path d="M404.7,275.7L409.4,268.6L412.6,275.3Z" fill="#C61C1C"/>
<path d="M406.1,271.4L410.7,264.5L413.7,271.0Z" fill="#C61C1C"/>
<path d="M416.0,277.5L420.7,270.4L423.8,277.1Z" fill="#C61C1C"/>
<path d="M425.9,274.3L430.3,267.6L433.2,273.9Z" fill="#C61C1C"/>
<path d="M439.7,276.0L444.1,269.3L447.1,275.6Z" fill="#C61C1C"/>
<path d="M443.4,273.0L447.6,266.6L450.5,272.6Z" fill="#C61C1C"/>
<path d="M389.3,287.9L393.8,281.1L396.9,287.5Z" fill="#C61C1C"/>
<path d="M393.4,282.7L397.5,276.7L400.1,282.4Z" fill="#C61C1C"/>
<path d="M402.3,289.7L406.6,283.3L409.5,289.4Z" fill="#C61C1C"/>
<path d="M405.3,285.1L409.7,278.5L412.7,284.8Z" fill="#C61C1C"/>
<path d="M414.2,289.4L418.5,283.1L421.3,289.1Z" fill="#C61C1C"/>
<path d="M415.0,283.0L418.9,277.0L421.6,282.6Z" fill="#C61C1C"/>
<path d="M425.5,286.8L429.1,281.3L431.6,286.5Z" fill="#C61C1C"/>
<path d="M429.7,284.5L433.4,278.9L435.9,284.2Z" fill="#C61C1C"/>
<path d="M437.6,287.7L441.6,281.7L444.3,287.4Z" fill="#C61C1C"/>
<path d="M439.2,283.9L443.5,277.5L446.4,283.6Z" fill="#C61C1C"/>
<path d="M446.2,287.8L450.7,281.0L453.7,287.4Z" fill="#C61C1C"/>
<path d="M450.1,285.2L454.6,278.6L457.5,284.9Z" fill="#C61C1C"/>
<circle cx="364.9" cy="236.5" r="2.4" fill="#4A524D"/>
<circle cx="361.6" cy="240.4" r="2.4" fill="#4A524D"/>
<circle cx="376.4" cy="236.5" r="2.4" fill="#4A524D"/>
<circle cx="373.1" cy="240.4" r="2.4" fill="#4A524D"/>
<circle cx="387.9" cy="236.5" r="2.4" fill="#4A524D"/>
<circle cx="384.6" cy="240.4" r="2.4" fill="#4A524D"/>
<circle cx="399.4" cy="236.5" r="2.4" fill="#4A524D"/>
<circle cx="396.1" cy="240.4" r="2.4" fill="#4A524D"/>
<circle cx="410.9" cy="236.5" r="2.4" fill="#4A524D"/>
<circle cx="407.6" cy="240.4" r="2.4" fill="#4A524D"/>
<circle cx="422.4" cy="236.5" r="2.4" fill="#4A524D"/>
<circle cx="419.1" cy="240.4" r="2.4" fill="#4A524D"/>
<circle cx="372.3" cy="248.3" r="2.4" fill="#4A524D"/>
<circle cx="369.0" cy="252.2" r="2.4" fill="#4A524D"/>
<circle cx="383.8" cy="248.3" r="2.4" fill="#4A524D"/>
<circle cx="380.5" cy="252.2" r="2.4" fill="#4A524D"/>
<circle cx="395.3" cy="248.3" r="2.4" fill="#4A524D"/>
<circle cx="392.0" cy="252.2" r="2.4" fill="#4A524D"/>
<circle cx="406.8" cy="248.3" r="2.4" fill="#4A524D"/>
<circle cx="403.5" cy="252.2" r="2.4" fill="#4A524D"/>
<circle cx="418.3" cy="248.3" r="2.4" fill="#4A524D"/>
<circle cx="415.0" cy="252.2" r="2.4" fill="#4A524D"/>
<circle cx="429.8" cy="248.3" r="2.4" fill="#4A524D"/>
<circle cx="426.5" cy="252.2" r="2.4" fill="#4A524D"/>
<circle cx="379.7" cy="260.0" r="2.4" fill="#4A524D"/>
<circle cx="376.4" cy="263.9" r="2.4" fill="#4A524D"/>
<circle cx="391.2" cy="260.0" r="2.4" fill="#4A524D"/>
<circle cx="387.9" cy="263.9" r="2.4" fill="#4A524D"/>
<circle cx="402.7" cy="260.0" r="2.4" fill="#4A524D"/>
<circle cx="399.4" cy="263.9" r="2.4" fill="#4A524D"/>
<circle cx="414.2" cy="260.0" r="2.4" fill="#4A524D"/>
<circle cx="410.9" cy="263.9" r="2.4" fill="#4A524D"/>
<circle cx="425.7" cy="260.0" r="2.4" fill="#4A524D"/>
<circle cx="422.4" cy="263.9" r="2.4" fill="#4A524D"/>
<circle cx="437.2" cy="260.0" r="2.4" fill="#4A524D"/>
<circle cx="433.9" cy="263.9" r="2.4" fill="#4A524D"/>
<circle cx="387.1" cy="271.8" r="2.4" fill="#4A524D"/>
<circle cx="383.8" cy="275.7" r="2.4" fill="#4A524D"/>
<circle cx="398.6" cy="271.8" r="2.4" fill="#4A524D"/>
<circle cx="395.3" cy="275.7" r="2.4" fill="#4A524D"/>
<circle cx="410.1" cy="271.8" r="2.4" fill="#4A524D"/>
<circle cx="406.8" cy="275.7" r="2.4" fill="#4A524D"/>
<circle cx="421.6" cy="271.8" r="2.4" fill="#4A524D"/>
<circle cx="418.3" cy="275.7" r="2.4" fill="#4A524D"/>
<circle cx="433.1" cy="271.8" r="2.4" fill="#4A524D"/>
<circle cx="429.8" cy="275.7" r="2.4" fill="#4A524D"/>
<circle cx="444.6" cy="271.8" r="2.4" fill="#4A524D"/>
<circle cx="441.3" cy="275.7" r="2.4" fill="#4A524D"/>
<circle cx="394.5" cy="283.6" r="2.4" fill="#4A524D"/>
<circle cx="391.2" cy="287.5" r="2.4" fill="#4A524D"/>
<circle cx="406.0" cy="283.6" r="2.4" fill="#4A524D"/>
<circle cx="402.7" cy="287.5" r="2.4" fill="#4A524D"/>
<circle cx="417.5" cy="283.6" r="2.4" fill="#4A524D"/>
<circle cx="414.2" cy="287.5" r="2.4" fill="#4A524D"/>
<circle cx="429.0" cy="283.6" r="2.4" fill="#4A524D"/>
<circle cx="425.7" cy="287.5" r="2.4" fill="#4A524D"/>
<circle cx="440.5" cy="283.6" r="2.4" fill="#4A524D"/>
<circle cx="437.2" cy="287.5" r="2.4" fill="#4A524D"/>
<circle cx="452.0" cy="283.6" r="2.4" fill="#4A524D"/>
<circle cx="448.7" cy="287.5" r="2.4" fill="#4A524D"/>
<path d="M403.0,245.5L410.6,245.5L406.8,252.1Z" fill="#2A2A9A"/>
<path d="M410.4,257.2L418.0,257.2L414.2,263.8Z" fill="#2A2A9A"/>
<path d="M421.9,257.2L429.5,257.2L425.7,263.8Z" fill="#2A2A9A"/>
<path d="M475.8,237.6l3.9,2.8M475.8,237.6l-0.6,4.3M475.8,237.6l-5.0,2.4M475.8,237.6l-4.0,-3.0M475.8,237.6l-0.6,-4.1M475.8,237.6l3.8,-2.1M487.6,237.6l3.5,2.2M487.6,237.6l-0.4,4.4M487.6,237.6l-3.3,2.8M487.6,237.6l-4.5,-2.5M487.6,237.6l-0.2,-4.3M487.6,237.6l5.1,-3.0M499.5,237.6l5.1,3.0M499.5,237.6l1.0,5.9M499.5,237.6l-4.7,1.9M499.5,237.6l-4.4,-2.6M499.5,237.6l0.6,-4.1M499.5,237.6l4.5,-2.3M511.3,237.6l4.9,2.4M511.3,237.6l-0.3,4.2M511.3,237.6l-4.4,2.2M511.3,237.6l-4.6,-2.6M511.3,237.6l-0.8,-5.1M511.3,237.6l4.9,-3.1M523.1,237.6l5.1,2.4M523.1,237.6l-0.4,5.2M523.1,237.6l-3.8,1.6M523.1,237.6l-4.4,-2.8M523.1,237.6l0.3,-4.8M523.1,237.6l3.4,-2.7M535.0,237.6l3.7,2.3M535.0,237.6l0.7,4.7M535.0,237.6l-4.4,2.6M535.0,237.6l-5.2,-1.9M535.0,237.6l-0.3,-5.6M535.0,237.6l4.5,-3.8M546.8,237.6l5.1,3.1M546.8,237.6l-1.0,5.6M546.8,237.6l-3.7,2.9M546.8,237.6l-5.1,-2.3M546.8,237.6l-0.5,-4.4M546.8,237.6l3.4,-2.6M483.2,249.0l4.6,3.7M483.2,249.0l0.2,5.5M483.2,249.0l-4.3,2.6M483.2,249.0l-4.7,-2.4M483.2,249.0l-0.4,-4.5M483.2,249.0l3.8,-2.2M495.0,249.0l5.2,2.8M495.0,249.0l0.7,4.1M495.0,249.0l-3.8,1.7M495.0,249.0l-5.2,-2.4M495.0,249.0l0.2,-4.4M495.0,249.0l3.5,-2.9M506.9,249.0l5.0,2.5M506.9,249.0l-0.9,5.5M506.9,249.0l-5.4,2.2M506.9,249.0l-4.6,-3.6M506.9,249.0l0.7,-4.1M506.9,249.0l3.7,-2.5M518.7,249.0l4.2,2.6M518.7,249.0l0.3,5.7M518.7,249.0l-3.7,2.3M518.7,249.0l-4.4,-2.1M518.7,249.0l0.2,-5.1M518.7,249.0l3.7,-2.3M530.5,249.0l4.1,2.2M530.5,249.0l0.6,5.1M530.5,249.0l-4.4,3.2M530.5,249.0l-3.6,-2.3M530.5,249.0l0.2,-4.7M530.5,249.0l4.5,-2.7M542.4,249.0l4.7,3.3M542.4,249.0l-0.4,4.4M542.4,249.0l-4.1,2.3M542.4,249.0l-4.8,-1.8M542.4,249.0l-0.1,-5.7M542.4,249.0l4.7,-3.1M554.2,249.0l3.6,2.1M554.2,249.0l-0.3,4.6M554.2,249.0l-3.6,2.0M554.2,249.0l-5.5,-2.0M554.2,249.0l-0.7,-4.2M554.2,249.0l3.4,-2.5M490.6,260.5l4.8,3.6M490.6,260.5l-0.2,4.8M490.6,260.5l-4.6,1.9M490.6,260.5l-5.0,-2.1M490.6,260.5l-0.2,-4.5M490.6,260.5l4.0,-2.6M502.4,260.5l4.8,2.1M502.4,260.5l-0.7,5.1M502.4,260.5l-4.1,3.4M502.4,260.5l-4.6,-1.7M502.4,260.5l0.7,-5.3M502.4,260.5l5.1,-2.0M514.3,260.5l3.9,1.8M514.3,260.5l0.1,5.4M514.3,260.5l-3.8,2.7M514.3,260.5l-3.8,-2.7M514.3,260.5l0.2,-5.1M514.3,260.5l3.8,-1.5M526.1,260.5l5.1,2.2M526.1,260.5l-0.2,4.2M526.1,260.5l-3.5,2.7M526.1,260.5l-5.0,-3.0M526.1,260.5l-0.4,-4.4M526.1,260.5l4.3,-2.1M537.9,260.5l4.8,3.6M537.9,260.5l-0.8,5.4M537.9,260.5l-3.6,2.1M537.9,260.5l-3.9,-2.8M537.9,260.5l-0.1,-5.3M537.9,260.5l4.8,-1.8M549.8,260.5l4.6,3.7M549.8,260.5l0.7,4.7M549.8,260.5l-5.1,2.1M549.8,260.5l-3.4,-2.8M549.8,260.5l0.1,-5.9M549.8,260.5l4.7,-2.6M561.6,260.5l3.4,2.8M561.6,260.5l0.9,5.6M561.6,260.5l-3.9,2.1M561.6,260.5l-3.7,-2.7M561.6,260.5l-0.6,-4.6M561.6,260.5l3.7,-3.0M498.0,271.9l4.0,2.9M498.0,271.9l-0.7,4.0M498.0,271.9l-3.4,2.6M498.0,271.9l-3.8,-2.3M498.0,271.9l0.3,-5.0M498.0,271.9l5.0,-2.7M509.8,271.9l4.7,3.4M509.8,271.9l0.6,4.7M509.8,271.9l-4.5,1.7M509.8,271.9l-4.5,-2.2M509.8,271.9l-0.6,-5.7M509.8,271.9l3.7,-1.9M521.7,271.9l3.9,3.2M521.7,271.9l0.4,5.2M521.7,271.9l-4.4,1.7M521.7,271.9l-4.1,-1.5M521.7,271.9l-0.8,-5.0M521.7,271.9l4.7,-3.2M533.5,271.9l3.7,1.6M533.5,271.9l0.1,4.2M533.5,271.9l-3.7,2.5M533.5,271.9l-4.8,-2.1M533.5,271.9l0.7,-4.7M533.5,271.9l4.1,-2.1M545.3,271.9l4.0,3.2M545.3,271.9l0.9,5.4M545.3,271.9l-3.3,2.4M545.3,271.9l-5.3,-2.0M545.3,271.9l0.3,-4.7M545.3,271.9l4.7,-2.6M557.2,271.9l5.0,2.0M557.2,271.9l-0.4,5.9M557.2,271.9l-4.0,3.2M557.2,271.9l-4.9,-2.9M557.2,271.9l-0.3,-5.3M557.2,271.9l4.4,-1.8M569.0,271.9l5.0,2.9M569.0,271.9l1.0,5.9M569.0,271.9l-4.1,2.7M569.0,271.9l-5.0,-2.4M569.0,271.9l0.1,-5.5M569.0,271.9l4.5,-3.5M505.4,283.4l4.3,3.2M505.4,283.4l0.4,4.5M505.4,283.4l-3.5,2.1M505.4,283.4l-3.7,-3.0M505.4,283.4l0.7,-4.3M505.4,283.4l5.0,-2.5M517.2,283.4l4.1,2.6M517.2,283.4l0.8,4.8M517.2,283.4l-5.0,3.1M517.2,283.4l-4.6,-3.8M517.2,283.4l0.7,-4.3M517.2,283.4l3.5,-2.9M529.1,283.4l4.0,1.5M529.1,283.4l-0.1,4.4M529.1,283.4l-4.2,2.2M529.1,283.4l-5.4,-2.6M529.1,283.4l-0.6,-5.7M529.1,283.4l4.6,-2.6M540.9,283.4l5.1,2.1M540.9,283.4l-0.6,4.4M540.9,283.4l-4.6,2.7M540.9,283.4l-4.8,-2.7M540.9,283.4l0.2,-4.6M540.9,283.4l5.0,-2.5M552.7,283.4l4.5,2.5M552.7,283.4l-0.2,4.9M552.7,283.4l-3.8,3.0M552.7,283.4l-4.4,-3.2M552.7,283.4l-0.7,-4.9M552.7,283.4l4.5,-2.4M564.6,283.4l4.9,2.1M564.6,283.4l-0.3,5.1M564.6,283.4l-4.8,1.9M564.6,283.4l-4.3,-1.6M564.6,283.4l0.3,-4.1M564.6,283.4l5.0,-1.9M576.4,283.4l3.5,2.5M576.4,283.4l1.0,5.7M576.4,283.4l-4.2,2.4M576.4,283.4l-4.8,-2.8M576.4,283.4l-0.2,-5.5M576.4,283.4l4.8,-3.6M512.8,294.8l3.8,2.6M512.8,294.8l0.0,5.8M512.8,294.8l-4.5,3.0M512.8,294.8l-4.7,-3.7M512.8,294.8l-0.5,-5.6M512.8,294.8l5.0,-2.6M524.6,294.8l4.5,1.8M524.6,294.8l0.1,5.6M524.6,294.8l-3.5,2.1M524.6,294.8l-5.2,-2.3M524.6,294.8l0.7,-5.1M524.6,294.8l4.3,-3.4M536.5,294.8l3.6,2.8M536.5,294.8l0.0,4.6M536.5,294.8l-4.3,3.4M536.5,294.8l-3.8,-1.6M536.5,294.8l0.6,-4.1M536.5,294.8l5.1,-2.4M548.3,294.8l4.3,2.0M548.3,294.8l0.5,5.4M548.3,294.8l-5.1,1.9M548.3,294.8l-4.4,-2.5M548.3,294.8l-0.2,-5.4M548.3,294.8l3.7,-2.6M560.1,294.8l3.7,2.5M560.1,294.8l-0.9,5.4M560.1,294.8l-3.3,2.4M560.1,294.8l-3.6,-2.3M560.1,294.8l-0.0,-5.2M560.1,294.8l4.4,-1.9M572.0,294.8l4.8,2.9M572.0,294.8l0.6,4.6M572.0,294.8l-4.3,1.9M572.0,294.8l-3.3,-2.6M572.0,294.8l-0.7,-4.7M572.0,294.8l4.1,-2.4M583.8,294.8l4.5,2.0M583.8,294.8l-0.8,5.8M583.8,294.8l-4.0,2.1M583.8,294.8l-3.7,-2.3M583.8,294.8l-0.8,-5.5M583.8,294.8l3.6,-2.5" stroke="#98CC84" stroke-width="1.4" fill="none"/>
<path d="M475.8,237.6L546.8,237.6M483.2,249.0L554.2,249.0M490.6,260.5L561.6,260.5M498.0,271.9L569.0,271.9M505.4,283.4L576.4,283.4M512.8,294.8L583.8,294.8M475.8,237.6L512.8,294.8M487.6,237.6L524.6,294.8M499.5,237.6L536.5,294.8M511.3,237.6L548.3,294.8M523.1,237.6L560.1,294.8M535.0,237.6L572.0,294.8M546.8,237.6L583.8,294.8M483.2,249.0L487.6,237.6M495.0,249.0L499.5,237.6M506.9,249.0L511.3,237.6M518.7,249.0L523.1,237.6M530.5,249.0L535.0,237.6M542.4,249.0L546.8,237.6M490.6,260.5L495.0,249.0M502.4,260.5L506.9,249.0M514.3,260.5L518.7,249.0M526.1,260.5L530.5,249.0M537.9,260.5L542.4,249.0M549.8,260.5L554.2,249.0M498.0,271.9L502.4,260.5M509.8,271.9L514.3,260.5M521.7,271.9L526.1,260.5M533.5,271.9L537.9,260.5M545.3,271.9L549.8,260.5M557.2,271.9L561.6,260.5M505.4,283.4L509.8,271.9M517.2,283.4L521.7,271.9M529.1,283.4L533.5,271.9M540.9,283.4L545.3,271.9M552.7,283.4L557.2,271.9M564.6,283.4L569.0,271.9M512.8,294.8L517.2,283.4M524.6,294.8L529.1,283.4M536.5,294.8L540.9,283.4M548.3,294.8L552.7,283.4M560.1,294.8L564.6,283.4M572.0,294.8L576.4,283.4" stroke="#B6DCA0" stroke-width="1.1" fill="none"/>
<path d="M478.7,245.4L483.3,238.5L486.4,245.0Z" fill="#C61C1C"/>
<path d="M483.2,240.4L487.0,234.8L489.5,240.1Z" fill="#C61C1C"/>
<path d="M492.8,247.4L496.7,241.6L499.3,247.1Z" fill="#C61C1C"/>
<path d="M494.8,241.8L498.6,236.1L501.1,241.5Z" fill="#C61C1C"/>
<path d="M500.8,245.5L505.5,238.5L508.6,245.1Z" fill="#C61C1C"/>
<path d="M505.9,242.4L510.4,235.8L513.3,242.0Z" fill="#C61C1C"/>
<path d="M513.4,244.3L517.2,238.6L519.7,244.0Z" fill="#C61C1C"/>
<path d="M518.9,242.4L522.5,236.9L525.0,242.1Z" fill="#C61C1C"/>
<path d="M527.6,247.3L532.3,240.3L535.4,246.9Z" fill="#C61C1C"/>
<path d="M530.3,240.6L534.0,235.0L536.5,240.3Z" fill="#C61C1C"/>
<path d="M538.3,246.7L542.7,240.0L545.7,246.3Z" fill="#C61C1C"/>
<path d="M540.4,241.0L544.8,234.3L547.8,240.6Z" fill="#C61C1C"/>
<path d="M485.2,255.9L489.5,249.5L492.4,255.6Z" fill="#C61C1C"/>
<path d="M490.4,252.5L494.5,246.2L497.3,252.2Z" fill="#C61C1C"/>
<path d="M501.4,258.9L505.5,252.7L508.2,258.5Z" fill="#C61C1C"/>
<path d="M501.3,253.0L505.2,247.1L507.9,252.7Z" fill="#C61C1C"/>
<path d="M508.6,257.0L512.9,250.4L515.8,256.6Z" fill="#C61C1C"/>
<path d="M521.7,257.4L525.5,251.7L528.0,257.1Z" fill="#C61C1C"/>
<path d="M526.1,254.1L530.2,247.8L533.0,253.7Z" fill="#C61C1C"/>
<path d="M532.0,254.8L535.9,248.9L538.5,254.5Z" fill="#C61C1C"/>
<path d="M536.6,252.0L540.6,245.9L543.3,251.7Z" fill="#C61C1C"/>
<path d="M544.2,257.5L548.9,250.5L552.0,257.1Z" fill="#C61C1C"/>
<path d="M493.7,268.2L498.0,261.8L500.8,267.9Z" fill="#C61C1C"/>
<path d="M495.6,264.9L500.0,258.4L502.9,264.6Z" fill="#C61C1C"/>
<path d="M505.2,269.3L509.6,262.7L512.5,268.9Z" fill="#C61C1C"/>
<path d="M517.1,268.6L520.7,263.2L523.1,268.3Z" fill="#C61C1C"/>
<path d="M518.9,264.3L523.4,257.5L526.4,263.9Z" fill="#C61C1C"/>
<path d="M532.7,271.2L537.4,264.2L540.5,270.8Z" fill="#C61C1C"/>
<path d="M533.7,265.9L538.2,259.1L541.2,265.5Z" fill="#C61C1C"/>
<path d="M541.1,269.2L545.3,262.8L548.1,268.8Z" fill="#C61C1C"/>
<path d="M543.9,265.3L548.5,258.4L551.5,264.9Z" fill="#C61C1C"/>
<path d="M554.2,270.2L558.9,263.1L562.1,269.8Z" fill="#C61C1C"/>
<path d="M556.5,265.3L560.4,259.4L563.0,265.0Z" fill="#C61C1C"/>
<path d="M502.2,279.6L506.0,273.9L508.6,279.3Z" fill="#C61C1C"/>
<path d="M506.5,276.1L510.5,270.1L513.2,275.8Z" fill="#C61C1C"/>
<path d="M513.2,281.1L516.9,275.7L519.3,280.8Z" fill="#C61C1C"/>
<path d="M515.9,275.2L519.8,269.4L522.4,274.9Z" fill="#C61C1C"/>
<path d="M525.1,279.0L528.8,273.4L531.3,278.7Z" fill="#C61C1C"/>
<path d="M528.5,274.8L532.1,269.4L534.5,274.5Z" fill="#C61C1C"/>
<path d="M537.0,277.8L541.0,271.7L543.8,277.5Z" fill="#C61C1C"/>
<path d="M541.6,275.7L545.2,270.3L547.6,275.4Z" fill="#C61C1C"/>
<path d="M549.1,278.9L553.3,272.7L556.1,278.6Z" fill="#C61C1C"/>
<path d="M550.8,275.7L555.4,268.8L558.5,275.3Z" fill="#C61C1C"/>
<path d="M562.1,279.8L566.5,273.1L569.5,279.4Z" fill="#C61C1C"/>
<path d="M565.2,275.5L568.8,270.0L571.3,275.2Z" fill="#C61C1C"/>
<path d="M508.5,290.2L513.0,283.5L516.0,289.8Z" fill="#C61C1C"/>
<path d="M510.7,286.3L514.5,280.5L517.1,286.0Z" fill="#C61C1C"/>
<path d="M521.4,290.2L526.0,283.4L529.0,289.9Z" fill="#C61C1C"/>
<path d="M534.7,292.1L539.1,285.6L542.0,291.8Z" fill="#C61C1C"/>
<path d="M533.5,286.9L537.8,280.5L540.6,286.5Z" fill="#C61C1C"/>
<path d="M544.6,292.0L548.8,285.8L551.5,291.7Z" fill="#C61C1C"/>
<path d="M554.4,290.2L559.2,283.1L562.4,289.8Z" fill="#C61C1C"/>
<path d="M557.6,286.4L561.5,280.6L564.0,286.1Z" fill="#C61C1C"/>
<path d="M568.7,292.7L573.4,285.7L576.5,292.3Z" fill="#C61C1C"/>
<path d="M571.5,287.8L575.3,282.0L577.9,287.5Z" fill="#C61C1C"/>
<circle cx="484.2" cy="241.4" r="2.4" fill="#4A524D"/>
<circle cx="480.7" cy="245.2" r="2.4" fill="#4A524D"/>
<circle cx="496.0" cy="241.4" r="2.4" fill="#4A524D"/>
<circle cx="492.5" cy="245.2" r="2.4" fill="#4A524D"/>
<circle cx="507.8" cy="241.4" r="2.4" fill="#4A524D"/>
<circle cx="504.4" cy="245.2" r="2.4" fill="#4A524D"/>
<circle cx="519.7" cy="241.4" r="2.4" fill="#4A524D"/>
<circle cx="516.2" cy="245.2" r="2.4" fill="#4A524D"/>
<circle cx="531.5" cy="241.4" r="2.4" fill="#4A524D"/>
<circle cx="528.0" cy="245.2" r="2.4" fill="#4A524D"/>
<circle cx="543.3" cy="241.4" r="2.4" fill="#4A524D"/>
<circle cx="539.9" cy="245.2" r="2.4" fill="#4A524D"/>
<circle cx="491.6" cy="252.8" r="2.4" fill="#4A524D"/>
<circle cx="488.1" cy="256.6" r="2.4" fill="#4A524D"/>
<circle cx="503.4" cy="252.8" r="2.4" fill="#4A524D"/>
<circle cx="499.9" cy="256.6" r="2.4" fill="#4A524D"/>
<circle cx="515.2" cy="252.8" r="2.4" fill="#4A524D"/>
<circle cx="511.8" cy="256.6" r="2.4" fill="#4A524D"/>
<circle cx="527.1" cy="252.8" r="2.4" fill="#4A524D"/>
<circle cx="523.6" cy="256.6" r="2.4" fill="#4A524D"/>
<circle cx="538.9" cy="252.8" r="2.4" fill="#4A524D"/>
<circle cx="535.4" cy="256.6" r="2.4" fill="#4A524D"/>
<circle cx="550.7" cy="252.8" r="2.4" fill="#4A524D"/>
<circle cx="547.3" cy="256.6" r="2.4" fill="#4A524D"/>
<circle cx="499.0" cy="264.3" r="2.4" fill="#4A524D"/>
<circle cx="495.5" cy="268.0" r="2.4" fill="#4A524D"/>
<circle cx="510.8" cy="264.3" r="2.4" fill="#4A524D"/>
<circle cx="507.3" cy="268.0" r="2.4" fill="#4A524D"/>
<circle cx="522.6" cy="264.3" r="2.4" fill="#4A524D"/>
<circle cx="519.2" cy="268.0" r="2.4" fill="#4A524D"/>
<circle cx="534.5" cy="264.3" r="2.4" fill="#4A524D"/>
<circle cx="531.0" cy="268.0" r="2.4" fill="#4A524D"/>
<circle cx="546.3" cy="264.3" r="2.4" fill="#4A524D"/>
<circle cx="542.8" cy="268.0" r="2.4" fill="#4A524D"/>
<circle cx="558.1" cy="264.3" r="2.4" fill="#4A524D"/>
<circle cx="554.7" cy="268.0" r="2.4" fill="#4A524D"/>
<circle cx="506.4" cy="275.7" r="2.4" fill="#4A524D"/>
<circle cx="502.9" cy="279.5" r="2.4" fill="#4A524D"/>
<circle cx="518.2" cy="275.7" r="2.4" fill="#4A524D"/>
<circle cx="514.7" cy="279.5" r="2.4" fill="#4A524D"/>
<circle cx="530.0" cy="275.7" r="2.4" fill="#4A524D"/>
<circle cx="526.6" cy="279.5" r="2.4" fill="#4A524D"/>
<circle cx="541.9" cy="275.7" r="2.4" fill="#4A524D"/>
<circle cx="538.4" cy="279.5" r="2.4" fill="#4A524D"/>
<circle cx="553.7" cy="275.7" r="2.4" fill="#4A524D"/>
<circle cx="550.2" cy="279.5" r="2.4" fill="#4A524D"/>
<circle cx="565.5" cy="275.7" r="2.4" fill="#4A524D"/>
<circle cx="562.1" cy="279.5" r="2.4" fill="#4A524D"/>
<circle cx="513.8" cy="287.1" r="2.4" fill="#4A524D"/>
<circle cx="510.3" cy="290.9" r="2.4" fill="#4A524D"/>
<circle cx="525.6" cy="287.1" r="2.4" fill="#4A524D"/>
<circle cx="522.1" cy="290.9" r="2.4" fill="#4A524D"/>
<circle cx="537.4" cy="287.1" r="2.4" fill="#4A524D"/>
<circle cx="534.0" cy="290.9" r="2.4" fill="#4A524D"/>
<circle cx="549.3" cy="287.1" r="2.4" fill="#4A524D"/>
<circle cx="545.8" cy="290.9" r="2.4" fill="#4A524D"/>
<circle cx="561.1" cy="287.1" r="2.4" fill="#4A524D"/>
<circle cx="557.6" cy="290.9" r="2.4" fill="#4A524D"/>
<circle cx="572.9" cy="287.1" r="2.4" fill="#4A524D"/>
<circle cx="569.5" cy="290.9" r="2.4" fill="#4A524D"/>
<path d="M523.3,250.0L530.9,250.0L527.1,256.6Z" fill="#2A2A9A"/>
<path d="M530.7,261.5L538.3,261.5L534.5,268.1Z" fill="#2A2A9A"/>
<path d="M542.5,261.5L550.1,261.5L546.3,268.1Z" fill="#2A2A9A"/>
<path d="M518.8,261.5L526.4,261.5L522.6,268.1Z" fill="#2A2A9A"/>
<path d="M549.9,272.9L557.5,272.9L553.7,279.5Z" fill="#2A2A9A"/>
<line x1="182.0" y1="490.8" x2="627.3" y2="490.8" stroke="#a8a8a8" stroke-width="0.9" stroke-dasharray="1.6 1.9"/>
<line x1="182.0" y1="557.4" x2="627.3" y2="557.4" stroke="#a8a8a8" stroke-width="0.9" stroke-dasharray="1.6 1.9"/>
<line x1="182.0" y1="624.4" x2="627.3" y2="624.4" stroke="#a8a8a8" stroke-width="0.9" stroke-dasharray="1.6 1.9"/>
<line x1="182.0" y1="689.5" x2="627.3" y2="689.5" stroke="#a8a8a8" stroke-width="0.9" stroke-dasharray="1.6 1.9"/>
<rect x="182.0" y="457.9" width="312.272" height="52.900000000000034" fill="url(#hO)" stroke="#E0782A" stroke-width="1.5"/>
<rect x="182.0" y="563.8" width="225.752" height="53.0" fill="url(#hG)" stroke="#14700F" stroke-width="1.5"/>
<rect x="182.0" y="669.8" width="290.024" height="53.80000000000007" fill="url(#hP)" stroke="#C97FC0" stroke-width="1.5"/>
<rect x="182.0" y="424.7" width="445.29999999999995" height="331.7" fill="none" stroke="#000" stroke-width="3.6"/>
<line x1="182.8" y1="756.4" x2="182.8" y2="763.9" stroke="#000" stroke-width="2.8"/>
<line x1="232.24" y1="756.4" x2="232.24" y2="763.9" stroke="#000" stroke-width="2.8"/>
<line x1="281.68" y1="756.4" x2="281.68" y2="763.9" stroke="#000" stroke-width="2.8"/>
<line x1="331.12" y1="756.4" x2="331.12" y2="763.9" stroke="#000" stroke-width="2.8"/>
<line x1="380.56" y1="756.4" x2="380.56" y2="763.9" stroke="#000" stroke-width="2.8"/>
<line x1="430.0" y1="756.4" x2="430.0" y2="763.9" stroke="#000" stroke-width="2.8"/>
<line x1="479.44000000000005" y1="756.4" x2="479.44000000000005" y2="763.9" stroke="#000" stroke-width="2.8"/>
<line x1="528.8800000000001" y1="756.4" x2="528.8800000000001" y2="763.9" stroke="#000" stroke-width="2.8"/>
<line x1="578.3199999999999" y1="756.4" x2="578.3199999999999" y2="763.9" stroke="#000" stroke-width="2.8"/>
<line x1="627.76" y1="756.4" x2="627.76" y2="763.9" stroke="#000" stroke-width="2.8"/>
<line x1="295" y1="482.5" x2="328.7" y2="482.5" stroke="#3B3C8F" stroke-width="1.6"/>
<path d="M334.7,482.5 L325.7,479.0 L325.7,486.0 Z" fill="#3B3C8F"/>
<line x1="296" y1="589" x2="328.7" y2="589" stroke="#3B3C8F" stroke-width="1.6"/>
<path d="M334.7,589 L325.7,585.5 L325.7,592.5 Z" fill="#3B3C8F"/>
<line x1="296" y1="703" x2="328.7" y2="703" stroke="#3B3C8F" stroke-width="1.6"/>
<path d="M334.7,703 L325.7,699.5 L325.7,706.5 Z" fill="#3B3C8F"/>
<rect x="804.9" y="425.5" width="445.1" height="331.5" fill="none" stroke="#000" stroke-width="3.4"/>
<line x1="796.9" y1="425.45000000000005" x2="804.9" y2="425.45000000000005" stroke="#000" stroke-width="2.9"/>
<line x1="799.4" y1="458.625" x2="804.9" y2="458.625" stroke="#000" stroke-width="2.9"/>
<line x1="796.9" y1="491.8" x2="804.9" y2="491.8" stroke="#000" stroke-width="2.9"/>
<line x1="799.4" y1="524.975" x2="804.9" y2="524.975" stroke="#000" stroke-width="2.9"/>
<line x1="796.9" y1="558.15" x2="804.9" y2="558.15" stroke="#000" stroke-width="2.9"/>
<line x1="799.4" y1="591.325" x2="804.9" y2="591.325" stroke="#000" stroke-width="2.9"/>
<line x1="796.9" y1="624.5" x2="804.9" y2="624.5" stroke="#000" stroke-width="2.9"/>
<line x1="799.4" y1="657.675" x2="804.9" y2="657.675" stroke="#000" stroke-width="2.9"/>
<line x1="796.9" y1="690.85" x2="804.9" y2="690.85" stroke="#000" stroke-width="2.9"/>
<line x1="799.4" y1="724.025" x2="804.9" y2="724.025" stroke="#000" stroke-width="2.9"/>
<line x1="796.9" y1="757.2" x2="804.9" y2="757.2" stroke="#000" stroke-width="2.9"/>
<line x1="893.5" y1="491.8" x2="982" y2="512" stroke="#E0782A" stroke-width="2.6" stroke-dasharray="10 7"/>
<line x1="1072.7" y1="512" x2="1161.5" y2="491.8" stroke="#E0782A" stroke-width="2.6" stroke-dasharray="10 7"/>
<line x1="982" y1="512" x2="1072.7" y2="512" stroke="#E0782A" stroke-width="3.4"/>
<line x1="893.5" y1="491.8" x2="982" y2="600.3" stroke="#14700F" stroke-width="2.6" stroke-dasharray="10 7"/>
<line x1="1072.7" y1="600.3" x2="1161.5" y2="491.8" stroke="#14700F" stroke-width="2.6" stroke-dasharray="10 7"/>
<line x1="982" y1="600.3" x2="1072.7" y2="600.3" stroke="#14700F" stroke-width="3.4"/>
<line x1="893.5" y1="491.8" x2="982" y2="694.8" stroke="#C97FC0" stroke-width="2.6" stroke-dasharray="10 7"/>
<line x1="1072.7" y1="694.8" x2="1161.5" y2="491.8" stroke="#C97FC0" stroke-width="2.6" stroke-dasharray="10 7"/>
<line x1="982" y1="694.8" x2="1072.7" y2="694.8" stroke="#C97FC0" stroke-width="3.4"/>
<line x1="804.9" y1="491.8" x2="893.5" y2="491.8" stroke="#C97FC0" stroke-width="3.4"/>
<line x1="1161.5" y1="491.8" x2="1250" y2="491.8" stroke="#C97FC0" stroke-width="3.4"/>
<line x1="1095.6" y1="670" x2="1134.6" y2="670" stroke="#E0782A" stroke-width="3.6"/>
<line x1="1095.6" y1="696.6" x2="1134.6" y2="696.6" stroke="#14700F" stroke-width="3.6"/>
<line x1="1095.6" y1="730.6" x2="1134.6" y2="730.6" stroke="#C97FC0" stroke-width="3.6"/>
<defs>
<linearGradient id="eg" x1="0" y1="0" x2="0" y2="1"><stop offset="0" stop-color="#404040"/><stop offset="0.30" stop-color="#5a5a5a"/><stop offset="0.46" stop-color="#a2a2a2"/><stop offset="1" stop-color="#a8a8a8"/></linearGradient>
<radialGradient id="sph" cx="0.38" cy="0.35" r="0.65"><stop offset="0" stop-color="#FBFFF2"/><stop offset="0.4" stop-color="#CFE0AA"/><stop offset="1" stop-color="#8FA068"/></radialGradient>
<radialGradient id="red" cx="0.38" cy="0.35" r="0.65"><stop offset="0" stop-color="#FF8080"/><stop offset="0.35" stop-color="#E01818"/><stop offset="1" stop-color="#A00808"/></radialGradient>
<radialGradient id="cb" cx="0.38" cy="0.35" r="0.65"><stop offset="0" stop-color="#F0F0F0"/><stop offset="0.35" stop-color="#808080"/><stop offset="1" stop-color="#404040"/></radialGradient>
<filter id="tex0" x="0" y="0" width="100%" height="100%" color-interpolation-filters="sRGB">
<feTurbulence type="fractalNoise" baseFrequency="0.055 0.065" numOctaves="4" seed="11" result="n"/>
<feColorMatrix in="n" type="matrix" values="1 0 0 0 0  1 0 0 0 0  1 0 0 0 0  0 0 0 0 1" result="nr"/>
<feComposite in="nr" in2="SourceGraphic" operator="arithmetic" k1="0" k2="1" k3="0.55" k4="-0.25" result="sum"/>
<feColorMatrix in="sum" type="matrix" values="0 0 0 0 0.22  0 0 0 0 0.74  0 0 0 0 0.78  8 0 0 0 -4.4" result="cy"/>
<feMorphology in="cy" operator="dilate" radius="0.9" result="cyd"/>
<feComposite in="cyd" in2="cy" operator="out" result="ring0"/>
<feFlood flood-color="#7FAE48" result="rc"/>
<feComposite in="rc" in2="ring0" operator="in" result="ring"/>
<feFlood flood-color="#D6D41C" result="yel"/>
<feMerge><feMergeNode in="yel"/><feMergeNode in="ring"/><feMergeNode in="cy"/></feMerge>
</filter>
<filter id="shade0" x="0" y="0" width="100%" height="100%" color-interpolation-filters="sRGB">
<feTurbulence type="fractalNoise" baseFrequency="0.08 0.12" numOctaves="2" seed="16" result="n"/>
<feColorMatrix in="n" type="matrix" values="0 0 0 0 0.55  0 0 0 0 0.55  0 0 0 0 0.05  9 0 0 0 -5.6"/>
</filter>
<filter id="cyb0" x="0" y="0" width="100%" height="100%" color-interpolation-filters="sRGB">
<feTurbulence type="fractalNoise" baseFrequency="0.06 0.12" numOctaves="2" seed="20" result="n"/>
<feColorMatrix in="n" type="matrix" values="0 0 0 0 0.20  0 0 0 0 0.74  0 0 0 0 0.76  12 0 0 0 -6.3"/>
</filter>
<filter id="tex1" x="0" y="0" width="100%" height="100%" color-interpolation-filters="sRGB">
<feTurbulence type="fractalNoise" baseFrequency="0.055 0.065" numOctaves="4" seed="23" result="n"/>
<feColorMatrix in="n" type="matrix" values="1 0 0 0 0  1 0 0 0 0  1 0 0 0 0  0 0 0 0 1" result="nr"/>
<feComposite in="nr" in2="SourceGraphic" operator="arithmetic" k1="0" k2="1" k3="0.55" k4="-0.25" result="sum"/>
<feColorMatrix in="sum" type="matrix" values="0 0 0 0 0.22  0 0 0 0 0.74  0 0 0 0 0.78  8 0 0 0 -4.4" result="cy"/>
<feMorphology in="cy" operator="dilate" radius="0.9" result="cyd"/>
<feComposite in="cyd" in2="cy" operator="out" result="ring0"/>
<feFlood flood-color="#7FAE48" result="rc"/>
<feComposite in="rc" in2="ring0" operator="in" result="ring"/>
<feFlood flood-color="#D6D41C" result="yel"/>
<feMerge><feMergeNode in="yel"/><feMergeNode in="ring"/><feMergeNode in="cy"/></feMerge>
</filter>
<filter id="shade1" x="0" y="0" width="100%" height="100%" color-interpolation-filters="sRGB">
<feTurbulence type="fractalNoise" baseFrequency="0.08 0.12" numOctaves="2" seed="28" result="n"/>
<feColorMatrix in="n" type="matrix" values="0 0 0 0 0.55  0 0 0 0 0.55  0 0 0 0 0.05  9 0 0 0 -5.6"/>
</filter>
<filter id="cyb1" x="0" y="0" width="100%" height="100%" color-interpolation-filters="sRGB">
<feTurbulence type="fractalNoise" baseFrequency="0.06 0.12" numOctaves="2" seed="32" result="n"/>
<feColorMatrix in="n" type="matrix" values="0 0 0 0 0.20  0 0 0 0 0.74  0 0 0 0 0.76  12 0 0 0 -6.3"/>
</filter>
<filter id="tex2" x="0" y="0" width="100%" height="100%" color-interpolation-filters="sRGB">
<feTurbulence type="fractalNoise" baseFrequency="0.055 0.065" numOctaves="4" seed="37" result="n"/>
<feColorMatrix in="n" type="matrix" values="1 0 0 0 0  1 0 0 0 0  1 0 0 0 0  0 0 0 0 1" result="nr"/>
<feComposite in="nr" in2="SourceGraphic" operator="arithmetic" k1="0" k2="1" k3="0.55" k4="-0.25" result="sum"/>
<feColorMatrix in="sum" type="matrix" values="0 0 0 0 0.22  0 0 0 0 0.74  0 0 0 0 0.78  8 0 0 0 -4.4" result="cy"/>
<feMorphology in="cy" operator="dilate" radius="0.9" result="cyd"/>
<feComposite in="cyd" in2="cy" operator="out" result="ring0"/>
<feFlood flood-color="#7FAE48" result="rc"/>
<feComposite in="rc" in2="ring0" operator="in" result="ring"/>
<feFlood flood-color="#D6D41C" result="yel"/>
<feMerge><feMergeNode in="yel"/><feMergeNode in="ring"/><feMergeNode in="cy"/></feMerge>
</filter>
<filter id="shade2" x="0" y="0" width="100%" height="100%" color-interpolation-filters="sRGB">
<feTurbulence type="fractalNoise" baseFrequency="0.08 0.12" numOctaves="2" seed="42" result="n"/>
<feColorMatrix in="n" type="matrix" values="0 0 0 0 0.55  0 0 0 0 0.55  0 0 0 0 0.05  9 0 0 0 -5.6"/>
</filter>
<filter id="cyb2" x="0" y="0" width="100%" height="100%" color-interpolation-filters="sRGB">
<feTurbulence type="fractalNoise" baseFrequency="0.06 0.12" numOctaves="2" seed="46" result="n"/>
<feColorMatrix in="n" type="matrix" values="0 0 0 0 0.20  0 0 0 0 0.74  0 0 0 0 0.76  12 0 0 0 -6.3"/>
</filter>
<filter id="soft" x="-30%" y="-30%" width="160%" height="160%"><feGaussianBlur stdDeviation="1.0"/></filter>
</defs>
<clipPath id="clipE0"><rect x="65.5" y="870" width="180.2" height="329"/></clipPath>
<g clip-path="url(#clipE0)">
<rect x="65.5" y="933" width="180.2" height="266" fill="url(#eg)" filter="url(#tex0)"/>
<rect x="65.5" y="933" width="180.2" height="266" filter="url(#shade0)" opacity="0.35"/>
<ellipse cx="91.7" cy="1197.3" rx="11.9" ry="3.4" fill="#fff"/>
<ellipse cx="197.4" cy="1197.2" rx="12.2" ry="3.1" fill="#fff"/>
<ellipse cx="79.9" cy="1197.3" rx="5.4" ry="3.9" fill="#fff"/>
<ellipse cx="236.2" cy="1196.7" rx="7.8" ry="3.5" fill="#fff"/>
<ellipse cx="102.2" cy="1195.9" rx="6.7" ry="2.7" fill="#fff"/>
<ellipse cx="178.4" cy="1199.8" rx="6.9" ry="3.9" fill="#fff"/>
<ellipse cx="165.6" cy="1199.5" rx="12.4" ry="2.3" fill="#fff"/>
<ellipse cx="182.4" cy="1195.6" rx="5.1" ry="2.8" fill="#fff"/>
<ellipse cx="204.9" cy="932.8" rx="7.9" ry="4.5" fill="#fff"/>
<ellipse cx="230.2" cy="931.2" rx="10.5" ry="3.9" fill="#fff"/>
<ellipse cx="228.1" cy="930.6" rx="11.5" ry="4.9" fill="#fff"/>
<ellipse cx="175.3" cy="933.6" rx="13.7" ry="3.5" fill="#fff"/>
<ellipse cx="117.7" cy="933.0" rx="11.3" ry="3.0" fill="#fff"/>
<ellipse cx="219.4" cy="931.8" rx="10.8" ry="4.3" fill="#fff"/>
<ellipse cx="212.2" cy="934.5" rx="12.5" ry="2.8" fill="#fff"/>
<ellipse cx="218.2" cy="934.5" rx="13.1" ry="4.3" fill="#fff"/>
<ellipse cx="158.0" cy="932.5" rx="11.8" ry="2.4" fill="#fff"/>
<ellipse cx="187.3" cy="934.3" rx="7.6" ry="4.3" fill="#fff"/>
<ellipse cx="131.6" cy="934.5" rx="8.3" ry="9.1" fill="#3BBAC2" stroke="#2B9EA6" stroke-width="0.7"/>
<ellipse cx="165.3" cy="930.2" rx="9.5" ry="7.1" fill="#3BBAC2" stroke="#2B9EA6" stroke-width="0.7"/>
<ellipse cx="159.9" cy="934.8" rx="12.6" ry="8.1" fill="#3BBAC2" stroke="#2B9EA6" stroke-width="0.7"/>
<ellipse cx="145.0" cy="923.0" rx="13.0" ry="7.5" fill="#3BBAC2" stroke="#2B9EA6" stroke-width="0.7"/>
<ellipse cx="151.5" cy="927.7" rx="12.3" ry="5.5" fill="#3BBAC2" stroke="#2B9EA6" stroke-width="0.7"/>
<ellipse cx="137.9" cy="929.3" rx="11.8" ry="9.6" fill="#3BBAC2" stroke="#2B9EA6" stroke-width="0.7"/>
<ellipse cx="130.0" cy="919.4" rx="11.2" ry="9.2" fill="#3BBAC2" stroke="#2B9EA6" stroke-width="0.7"/>
<ellipse cx="136.3" cy="930.6" rx="10.4" ry="6.9" fill="#3BBAC2" stroke="#2B9EA6" stroke-width="0.7"/>
<ellipse cx="164.8" cy="916.7" rx="14.8" ry="6.9" fill="#3BBAC2" stroke="#2B9EA6" stroke-width="0.7"/>
<ellipse cx="212.7" cy="927.7" rx="9.4" ry="5.2" fill="#3BBAC2" stroke="#2B9EA6" stroke-width="0.7"/>
<ellipse cx="207.3" cy="931.6" rx="9.2" ry="3.6" fill="#3BBAC2" stroke="#2B9EA6" stroke-width="0.7"/>
<ellipse cx="203.8" cy="933.2" rx="9.0" ry="4.1" fill="#3BBAC2" stroke="#2B9EA6" stroke-width="0.7"/>
<ellipse cx="221.9" cy="926.6" rx="11.9" ry="5.3" fill="#3BBAC2" stroke="#2B9EA6" stroke-width="0.7"/>
<ellipse cx="208.6" cy="934.5" rx="11.0" ry="3.6" fill="#3BBAC2" stroke="#2B9EA6" stroke-width="0.7"/>
<ellipse cx="209.2" cy="926.3" rx="9.0" ry="4.1" fill="#3BBAC2" stroke="#2B9EA6" stroke-width="0.7"/>
<ellipse cx="217.5" cy="930.8" rx="10.0" ry="3.1" fill="#3BBAC2" stroke="#2B9EA6" stroke-width="0.7"/>
<ellipse cx="95.6" cy="915.5" rx="3.9" ry="2.5" fill="#3BBAC2" stroke="#2B9EA6" stroke-width="0.7"/>
<ellipse cx="96.4" cy="919.0" rx="4.9" ry="3.6" fill="#3BBAC2" stroke="#2B9EA6" stroke-width="0.7"/>
<ellipse cx="97.7" cy="914.3" rx="4.6" ry="3.3" fill="#3BBAC2" stroke="#2B9EA6" stroke-width="0.7"/>
<ellipse cx="93.3" cy="923.4" rx="2.8" ry="1.7" fill="#3BBAC2" stroke="#2B9EA6" stroke-width="0.7"/>
<ellipse cx="90.3" cy="926.2" rx="3.2" ry="2.0" fill="#3BBAC2" stroke="#2B9EA6" stroke-width="0.7"/>
<path d="M60.0,884.0 L95.0,885.0 L133.0,889.0 L171.0,897.0 L209.0,902.0 L246.0,892.0 M60.0,886.7 L95.0,887.7 L133.0,891.7 L171.0,899.7 L209.0,904.7 L246.0,894.7 M60.0,889.3 L95.0,890.3 L133.0,894.3 L171.0,902.3 L209.0,907.3 L246.0,897.3 M60.0,892.0 L95.0,893.0 L133.0,897.0 L171.0,905.0 L209.0,910.0 L246.0,900.0 M60.0,907.0 L95.0,897.0 L133.0,902.0 L171.0,914.0 L209.0,917.0 L246.0,907.0 M60.0,909.7 L95.0,899.7 L133.0,904.7 L171.0,916.7 L209.0,919.7 L246.0,909.7 M60.0,912.3 L95.0,902.3 L133.0,907.3 L171.0,919.3 L209.0,922.3 L246.0,912.3 M60.0,915.0 L95.0,905.0 L133.0,910.0 L171.0,922.0 L209.0,925.0 L246.0,915.0" stroke="#767676" stroke-width="1.5" fill="none"/>
<circle cx="88.9" cy="885.8" r="5.4" fill="url(#cb)"/>
<circle cx="101.5" cy="885.0" r="5.4" fill="url(#cb)"/>
<circle cx="88.1" cy="893.7" r="5.4" fill="url(#cb)"/>
<circle cx="101.5" cy="891.5" r="5.4" fill="url(#cb)"/>
<circle cx="88.1" cy="902.3" r="5.4" fill="url(#cb)"/>
<circle cx="101.5" cy="899.2" r="5.4" fill="url(#cb)"/>
<circle cx="126.8" cy="886.6" r="5.4" fill="url(#cb)"/>
<circle cx="140.2" cy="887.4" r="5.4" fill="url(#cb)"/>
<circle cx="126.8" cy="902.3" r="5.4" fill="url(#cb)"/>
<circle cx="140.2" cy="900.0" r="5.4" fill="url(#cb)"/>
<circle cx="139.4" cy="909.4" r="5.4" fill="url(#cb)"/>
<circle cx="165.4" cy="894.4" r="5.4" fill="url(#cb)"/>
<circle cx="178.0" cy="902.3" r="5.4" fill="url(#cb)"/>
<circle cx="163.8" cy="906.3" r="5.4" fill="url(#cb)"/>
<circle cx="163.8" cy="919.7" r="5.4" fill="url(#cb)"/>
<circle cx="178.0" cy="917.3" r="5.4" fill="url(#cb)"/>
<circle cx="203.3" cy="903.9" r="5.4" fill="url(#cb)"/>
<circle cx="215.9" cy="901.5" r="5.4" fill="url(#cb)"/>
<circle cx="203.3" cy="916.5" r="5.4" fill="url(#cb)"/>
<circle cx="215.9" cy="909.0" r="5.4" fill="url(#cb)"/>
<circle cx="215.9" cy="917.3" r="5.4" fill="url(#cb)"/>
<circle cx="203.3" cy="925.2" r="5.4" fill="url(#cb)"/>
<circle cx="240.3" cy="894.4" r="5.4" fill="url(#cb)"/>
<circle cx="240.3" cy="910.2" r="5.4" fill="url(#cb)"/>
<circle cx="65.3" cy="885.8" r="5.4" fill="url(#cb)"/>
<circle cx="65.3" cy="912.6" r="5.4" fill="url(#cb)"/>
<ellipse cx="93.4" cy="974.4" rx="16" ry="18" fill="#3DBDC2" opacity="0.9" filter="url(#soft)"/>
<ellipse cx="148.0" cy="1017.0" rx="16" ry="18" fill="#3DBDC2" opacity="0.9" filter="url(#soft)"/>
<ellipse cx="236.0" cy="1025.0" rx="16" ry="18" fill="#3DBDC2" opacity="0.9" filter="url(#soft)"/>
<ellipse cx="204.0" cy="979.4" rx="11" ry="14" fill="#3DBDC2" opacity="0.85" filter="url(#soft)"/>
<ellipse cx="222.8" cy="1030.0" rx="11" ry="14" fill="#3DBDC2" opacity="0.85" filter="url(#soft)"/>
<path d="M101.4,1070.0L125.4,1088.8 M125.4,1088.8L146.7,1104.9 M168.0,1074.0L125.4,1088.8 M101.4,1070.0L86.7,1103.5 M125.4,1088.8L126.7,1135.5 M168.0,1074.0L190.8,1135.5 M126.7,1135.5L105.4,1166.0 M126.7,1135.5L168.0,1167.6 M168.0,1167.6L125.4,1183.6 M190.8,1135.5L193.4,1183.6 M190.8,1135.5L230.8,1162.2 M105.4,1166.0L125.4,1183.6 M86.7,1103.5L68.0,1134.0 M125.4,1183.6L193.4,1183.6" stroke="#E4EDC8" stroke-width="2.4" fill="none"/>
<path d="M93.4,971.4L89.4,966.0 M93.4,971.4L108.7,964.0 M93.4,971.4L84.7,988.1 M148.0,1014.0L139.3,1010.7 M148.0,1014.0L160.0,1000.0 M148.0,1014.0L160.0,1027.4 M101.4,1070.0L114.1,1059.4 M168.0,1074.0L170.0,1057.4" stroke="#E4EDC8" stroke-width="2.8" fill="none"/>
<path d="M89.4,966.0L85.4,960.7 M108.7,964.0L124.0,956.7 M84.7,988.1L76.0,1004.8 M139.3,1010.7L130.7,1007.4 M160.0,1000.0L172.0,986.0 M160.0,1027.4L172.0,1040.8 M114.1,1059.4L126.7,1048.8 M170.0,1057.4L172.0,1040.8" stroke="#D42020" stroke-width="2.8" fill="none"/>
<circle cx="85.4" cy="960.7" r="5.2" fill="url(#red)"/>
<circle cx="124.0" cy="956.7" r="5.2" fill="url(#red)"/>
<circle cx="76.0" cy="1004.8" r="5.2" fill="url(#red)"/>
<circle cx="130.7" cy="1007.4" r="5.2" fill="url(#red)"/>
<circle cx="172.0" cy="986.0" r="5.2" fill="url(#red)"/>
<circle cx="204.0" cy="975.4" r="5.2" fill="url(#red)"/>
<circle cx="222.8" cy="1026.0" r="5.2" fill="url(#red)"/>
<circle cx="172.0" cy="1040.8" r="5.2" fill="url(#red)"/>
<circle cx="126.7" cy="1048.8" r="5.2" fill="url(#red)"/>
<circle cx="113.4" cy="1055.5" r="5.2" fill="url(#red)"/>
<circle cx="68.0" cy="1054.0" r="5.2" fill="url(#red)"/>
<circle cx="93.4" cy="971.4" r="8" fill="url(#sph)"/>
<circle cx="148.0" cy="1014.0" r="8" fill="url(#sph)"/>
<circle cx="101.4" cy="1070.0" r="8" fill="url(#sph)"/>
<circle cx="168.0" cy="1074.0" r="8" fill="url(#sph)"/>
<circle cx="125.4" cy="1088.8" r="8" fill="url(#sph)"/>
<circle cx="86.7" cy="1103.5" r="8" fill="url(#sph)"/>
<circle cx="146.7" cy="1104.9" r="8" fill="url(#sph)"/>
<circle cx="126.7" cy="1135.5" r="8" fill="url(#sph)"/>
<circle cx="190.8" cy="1135.5" r="8" fill="url(#sph)"/>
<circle cx="105.4" cy="1166.0" r="8" fill="url(#sph)"/>
<circle cx="168.0" cy="1167.6" r="8" fill="url(#sph)"/>
<circle cx="125.4" cy="1183.6" r="8" fill="url(#sph)"/>
<circle cx="193.4" cy="1183.6" r="8" fill="url(#sph)"/>
<circle cx="230.8" cy="1162.2" r="8" fill="url(#sph)"/>
<circle cx="68.0" cy="1134.0" r="8" fill="url(#sph)"/>
<circle cx="236.0" cy="1022.0" r="8" fill="url(#sph)"/>
</g>
<clipPath id="clipE1"><rect x="268.2" y="870" width="179.3" height="329"/></clipPath>
<g clip-path="url(#clipE1)">
<rect x="268.2" y="933" width="179.3" height="266" fill="url(#eg)" filter="url(#tex1)"/>
<rect x="268.2" y="933" width="179.3" height="266" filter="url(#shade1)" opacity="0.35"/>
<ellipse cx="372.4" cy="1196.0" rx="13.7" ry="3.8" fill="#fff"/>
<ellipse cx="352.0" cy="1198.3" rx="6.9" ry="2.4" fill="#fff"/>
<ellipse cx="319.9" cy="1198.5" rx="6.9" ry="3.9" fill="#fff"/>
<ellipse cx="280.8" cy="1196.0" rx="5.8" ry="3.5" fill="#fff"/>
<ellipse cx="333.9" cy="1197.4" rx="7.9" ry="3.3" fill="#fff"/>
<ellipse cx="340.6" cy="1196.0" rx="8.9" ry="2.6" fill="#fff"/>
<ellipse cx="288.1" cy="1199.1" rx="11.1" ry="3.3" fill="#fff"/>
<ellipse cx="426.4" cy="1197.0" rx="8.4" ry="2.8" fill="#fff"/>
<ellipse cx="340.7" cy="933.3" rx="6.1" ry="3.4" fill="#fff"/>
<ellipse cx="364.1" cy="931.7" rx="6.2" ry="4.1" fill="#fff"/>
<ellipse cx="269.9" cy="932.8" rx="7.5" ry="2.1" fill="#fff"/>
<ellipse cx="300.6" cy="930.3" rx="7.5" ry="4.1" fill="#fff"/>
<ellipse cx="398.8" cy="931.8" rx="12.5" ry="3.4" fill="#fff"/>
<ellipse cx="357.6" cy="934.4" rx="9.1" ry="4.6" fill="#fff"/>
<ellipse cx="392.1" cy="933.4" rx="6.1" ry="2.3" fill="#fff"/>
<ellipse cx="273.9" cy="931.7" rx="15.5" ry="4.6" fill="#fff"/>
<ellipse cx="418.6" cy="930.6" rx="13.1" ry="4.3" fill="#fff"/>
<ellipse cx="413.3" cy="934.0" rx="7.4" ry="2.5" fill="#fff"/>
<path d="M268.2,922 Q321.99,914 366.815,922 T447.5,918 L447.5,942 Q375.78,950 321.99,944 T268.2,941 Z" fill="#3BBAC2"/>
<ellipse cx="270.4" cy="931.6" rx="17.7" ry="5.3" fill="#3BBAC2" stroke="#2B9EA6" stroke-width="0.7"/>
<ellipse cx="274.1" cy="935.4" rx="13.8" ry="5.4" fill="#3BBAC2" stroke="#2B9EA6" stroke-width="0.7"/>
<ellipse cx="279.0" cy="925.2" rx="10.0" ry="6.5" fill="#3BBAC2" stroke="#2B9EA6" stroke-width="0.7"/>
<ellipse cx="285.7" cy="935.3" rx="15.6" ry="5.4" fill="#3BBAC2" stroke="#2B9EA6" stroke-width="0.7"/>
<ellipse cx="288.1" cy="920.0" rx="16.7" ry="5.2" fill="#3BBAC2" stroke="#2B9EA6" stroke-width="0.7"/>
<ellipse cx="291.9" cy="943.5" rx="12.1" ry="7.9" fill="#3BBAC2" stroke="#2B9EA6" stroke-width="0.7"/>
<ellipse cx="297.9" cy="937.3" rx="15.5" ry="4.7" fill="#3BBAC2" stroke="#2B9EA6" stroke-width="0.7"/>
<ellipse cx="302.8" cy="923.2" rx="12.9" ry="4.5" fill="#3BBAC2" stroke="#2B9EA6" stroke-width="0.7"/>
<ellipse cx="304.3" cy="926.3" rx="8.2" ry="5.5" fill="#3BBAC2" stroke="#2B9EA6" stroke-width="0.7"/>
<ellipse cx="312.4" cy="944.0" rx="13.1" ry="4.4" fill="#3BBAC2" stroke="#2B9EA6" stroke-width="0.7"/>
<ellipse cx="314.6" cy="917.8" rx="10.6" ry="6.5" fill="#3BBAC2" stroke="#2B9EA6" stroke-width="0.7"/>
<ellipse cx="320.3" cy="916.9" rx="13.9" ry="5.7" fill="#3BBAC2" stroke="#2B9EA6" stroke-width="0.7"/>
<ellipse cx="323.8" cy="919.8" rx="12.7" ry="4.4" fill="#3BBAC2" stroke="#2B9EA6" stroke-width="0.7"/>
<ellipse cx="329.5" cy="934.2" rx="15.5" ry="5.6" fill="#3BBAC2" stroke="#2B9EA6" stroke-width="0.7"/>
<ellipse cx="335.2" cy="926.3" rx="10.4" ry="5.5" fill="#3BBAC2" stroke="#2B9EA6" stroke-width="0.7"/>
<ellipse cx="339.5" cy="920.4" rx="17.2" ry="7.8" fill="#3BBAC2" stroke="#2B9EA6" stroke-width="0.7"/>
<ellipse cx="343.7" cy="929.0" rx="13.4" ry="7.5" fill="#3BBAC2" stroke="#2B9EA6" stroke-width="0.7"/>
<ellipse cx="347.6" cy="938.6" rx="10.1" ry="6.4" fill="#3BBAC2" stroke="#2B9EA6" stroke-width="0.7"/>
<ellipse cx="352.2" cy="922.7" rx="10.5" ry="7.4" fill="#3BBAC2" stroke="#2B9EA6" stroke-width="0.7"/>
<ellipse cx="355.9" cy="927.5" rx="13.8" ry="5.0" fill="#3BBAC2" stroke="#2B9EA6" stroke-width="0.7"/>
<ellipse cx="359.0" cy="919.0" rx="12.8" ry="4.6" fill="#3BBAC2" stroke="#2B9EA6" stroke-width="0.7"/>
<ellipse cx="366.4" cy="942.8" rx="15.1" ry="4.4" fill="#3BBAC2" stroke="#2B9EA6" stroke-width="0.7"/>
<ellipse cx="369.5" cy="920.4" rx="12.5" ry="4.5" fill="#3BBAC2" stroke="#2B9EA6" stroke-width="0.7"/>
<ellipse cx="373.5" cy="918.1" rx="11.4" ry="4.9" fill="#3BBAC2" stroke="#2B9EA6" stroke-width="0.7"/>
<ellipse cx="377.9" cy="942.1" rx="14.9" ry="7.1" fill="#3BBAC2" stroke="#2B9EA6" stroke-width="0.7"/>
<ellipse cx="383.5" cy="930.9" rx="8.8" ry="4.2" fill="#3BBAC2" stroke="#2B9EA6" stroke-width="0.7"/>
<ellipse cx="385.3" cy="930.5" rx="12.1" ry="7.7" fill="#3BBAC2" stroke="#2B9EA6" stroke-width="0.7"/>
<ellipse cx="390.1" cy="919.7" rx="15.7" ry="6.4" fill="#3BBAC2" stroke="#2B9EA6" stroke-width="0.7"/>
<ellipse cx="393.9" cy="925.6" rx="13.3" ry="7.3" fill="#3BBAC2" stroke="#2B9EA6" stroke-width="0.7"/>
<ellipse cx="401.7" cy="940.5" rx="14.4" ry="7.8" fill="#3BBAC2" stroke="#2B9EA6" stroke-width="0.7"/>
<ellipse cx="404.8" cy="924.1" rx="9.7" ry="7.3" fill="#3BBAC2" stroke="#2B9EA6" stroke-width="0.7"/>
<ellipse cx="410.1" cy="933.3" rx="19.7" ry="6.5" fill="#3BBAC2" stroke="#2B9EA6" stroke-width="0.7"/>
<ellipse cx="413.0" cy="935.5" rx="19.1" ry="4.7" fill="#3BBAC2" stroke="#2B9EA6" stroke-width="0.7"/>
<ellipse cx="420.4" cy="927.7" rx="9.4" ry="6.0" fill="#3BBAC2" stroke="#2B9EA6" stroke-width="0.7"/>
<ellipse cx="424.1" cy="929.8" rx="11.2" ry="7.1" fill="#3BBAC2" stroke="#2B9EA6" stroke-width="0.7"/>
<ellipse cx="425.5" cy="934.8" rx="12.3" ry="6.5" fill="#3BBAC2" stroke="#2B9EA6" stroke-width="0.7"/>
<ellipse cx="431.8" cy="923.8" rx="10.5" ry="7.3" fill="#3BBAC2" stroke="#2B9EA6" stroke-width="0.7"/>
<ellipse cx="436.1" cy="923.9" rx="15.1" ry="7.1" fill="#3BBAC2" stroke="#2B9EA6" stroke-width="0.7"/>
<ellipse cx="438.9" cy="928.8" rx="9.8" ry="7.1" fill="#3BBAC2" stroke="#2B9EA6" stroke-width="0.7"/>
<ellipse cx="443.2" cy="939.3" rx="14.7" ry="6.1" fill="#3BBAC2" stroke="#2B9EA6" stroke-width="0.7"/>
<path d="M264.0,886.0 L298.0,885.0 L336.0,897.0 L373.0,908.0 L410.0,899.0 L450.0,889.0 M264.0,888.7 L298.0,887.7 L336.0,899.7 L373.0,910.7 L410.0,901.7 L450.0,891.7 M264.0,891.3 L298.0,890.3 L336.0,902.3 L373.0,913.3 L410.0,904.3 L450.0,894.3 M264.0,894.0 L298.0,893.0 L336.0,905.0 L373.0,916.0 L410.0,907.0 L450.0,897.0 M264.0,912.0 L298.0,909.0 L336.0,907.0 L373.0,918.0 L410.0,910.0 L450.0,908.0 M264.0,914.7 L298.0,911.7 L336.0,909.7 L373.0,920.7 L410.0,912.7 L450.0,910.7 M264.0,917.3 L298.0,914.3 L336.0,912.3 L373.0,923.3 L410.0,915.3 L450.0,913.3 M264.0,920.0 L298.0,917.0 L336.0,915.0 L373.0,926.0 L410.0,918.0 L450.0,916.0" stroke="#767676" stroke-width="1.5" fill="none"/>
<circle cx="291.5" cy="885.8" r="5.4" fill="url(#cb)"/>
<circle cx="305.0" cy="886.6" r="5.4" fill="url(#cb)"/>
<circle cx="293.1" cy="899.2" r="5.4" fill="url(#cb)"/>
<circle cx="304.2" cy="900.0" r="5.4" fill="url(#cb)"/>
<circle cx="329.4" cy="900.0" r="5.4" fill="url(#cb)"/>
<circle cx="342.8" cy="900.8" r="5.4" fill="url(#cb)"/>
<circle cx="334.9" cy="912.6" r="5.4" fill="url(#cb)"/>
<circle cx="367.3" cy="909.4" r="5.4" fill="url(#cb)"/>
<circle cx="379.9" cy="910.2" r="5.4" fill="url(#cb)"/>
<circle cx="361.0" cy="921.3" r="5.4" fill="url(#cb)"/>
<circle cx="376.7" cy="922.0" r="5.4" fill="url(#cb)"/>
<circle cx="403.5" cy="903.1" r="5.4" fill="url(#cb)"/>
<circle cx="416.2" cy="900.8" r="5.4" fill="url(#cb)"/>
<circle cx="402.7" cy="911.8" r="5.4" fill="url(#cb)"/>
<circle cx="417.7" cy="915.0" r="5.4" fill="url(#cb)"/>
<circle cx="441.4" cy="892.0" r="5.4" fill="url(#cb)"/>
<circle cx="443.8" cy="913.4" r="5.4" fill="url(#cb)"/>
<circle cx="269.5" cy="900.8" r="5.4" fill="url(#cb)"/>
<circle cx="270.3" cy="920.5" r="5.4" fill="url(#cb)"/>
<circle cx="296.3" cy="918.1" r="5.4" fill="url(#cb)"/>
<circle cx="310.5" cy="911.8" r="5.4" fill="url(#cb)"/>
<ellipse cx="296.1" cy="974.4" rx="16" ry="18" fill="#3DBDC2" opacity="0.9" filter="url(#soft)"/>
<ellipse cx="350.7" cy="1017.0" rx="16" ry="18" fill="#3DBDC2" opacity="0.9" filter="url(#soft)"/>
<ellipse cx="438.7" cy="1025.0" rx="16" ry="18" fill="#3DBDC2" opacity="0.9" filter="url(#soft)"/>
<ellipse cx="406.7" cy="979.4" rx="11" ry="14" fill="#3DBDC2" opacity="0.85" filter="url(#soft)"/>
<ellipse cx="425.5" cy="1030.0" rx="11" ry="14" fill="#3DBDC2" opacity="0.85" filter="url(#soft)"/>
<path d="M304.1,1070.0L328.1,1088.8 M328.1,1088.8L349.4,1104.9 M370.7,1074.0L328.1,1088.8 M304.1,1070.0L289.4,1103.5 M328.1,1088.8L329.4,1135.5 M370.7,1074.0L393.5,1135.5 M329.4,1135.5L308.1,1166.0 M329.4,1135.5L370.7,1167.6 M370.7,1167.6L328.1,1183.6 M393.5,1135.5L396.1,1183.6 M393.5,1135.5L433.5,1162.2 M308.1,1166.0L328.1,1183.6 M289.4,1103.5L270.7,1134.0 M328.1,1183.6L396.1,1183.6" stroke="#E4EDC8" stroke-width="2.4" fill="none"/>
<path d="M296.1,971.4L292.1,966.0 M296.1,971.4L311.4,964.0 M296.1,971.4L287.4,988.1 M350.7,1014.0L342.0,1010.7 M350.7,1014.0L362.7,1000.0 M350.7,1014.0L362.7,1027.4 M304.1,1070.0L316.8,1059.4 M370.7,1074.0L372.7,1057.4" stroke="#E4EDC8" stroke-width="2.8" fill="none"/>
<path d="M292.1,966.0L288.1,960.7 M311.4,964.0L326.7,956.7 M287.4,988.1L278.7,1004.8 M342.0,1010.7L333.4,1007.4 M362.7,1000.0L374.7,986.0 M362.7,1027.4L374.7,1040.8 M316.8,1059.4L329.4,1048.8 M372.7,1057.4L374.7,1040.8" stroke="#D42020" stroke-width="2.8" fill="none"/>
<circle cx="288.1" cy="960.7" r="5.2" fill="url(#red)"/>
<circle cx="326.7" cy="956.7" r="5.2" fill="url(#red)"/>
<circle cx="278.7" cy="1004.8" r="5.2" fill="url(#red)"/>
<circle cx="333.4" cy="1007.4" r="5.2" fill="url(#red)"/>
<circle cx="374.7" cy="986.0" r="5.2" fill="url(#red)"/>
<circle cx="406.7" cy="975.4" r="5.2" fill="url(#red)"/>
<circle cx="425.5" cy="1026.0" r="5.2" fill="url(#red)"/>
<circle cx="374.7" cy="1040.8" r="5.2" fill="url(#red)"/>
<circle cx="329.4" cy="1048.8" r="5.2" fill="url(#red)"/>
<circle cx="316.1" cy="1055.5" r="5.2" fill="url(#red)"/>
<circle cx="270.7" cy="1054.0" r="5.2" fill="url(#red)"/>
<circle cx="296.1" cy="971.4" r="8" fill="url(#sph)"/>
<circle cx="350.7" cy="1014.0" r="8" fill="url(#sph)"/>
<circle cx="304.1" cy="1070.0" r="8" fill="url(#sph)"/>
<circle cx="370.7" cy="1074.0" r="8" fill="url(#sph)"/>
<circle cx="328.1" cy="1088.8" r="8" fill="url(#sph)"/>
<circle cx="289.4" cy="1103.5" r="8" fill="url(#sph)"/>
<circle cx="349.4" cy="1104.9" r="8" fill="url(#sph)"/>
<circle cx="329.4" cy="1135.5" r="8" fill="url(#sph)"/>
<circle cx="393.5" cy="1135.5" r="8" fill="url(#sph)"/>
<circle cx="308.1" cy="1166.0" r="8" fill="url(#sph)"/>
<circle cx="370.7" cy="1167.6" r="8" fill="url(#sph)"/>
<circle cx="328.1" cy="1183.6" r="8" fill="url(#sph)"/>
<circle cx="396.1" cy="1183.6" r="8" fill="url(#sph)"/>
<circle cx="433.5" cy="1162.2" r="8" fill="url(#sph)"/>
<circle cx="270.7" cy="1134.0" r="8" fill="url(#sph)"/>
<circle cx="438.7" cy="1022.0" r="8" fill="url(#sph)"/>
</g>
<clipPath id="clipE2"><rect x="469.3" y="870" width="181.2" height="329"/></clipPath>
<g clip-path="url(#clipE2)">
<rect x="469.3" y="933" width="181.2" height="266" fill="url(#eg)" filter="url(#tex2)"/>
<rect x="469.3" y="933" width="181.2" height="266" filter="url(#shade2)" opacity="0.35"/>
<ellipse cx="496.1" cy="1198.1" rx="6.5" ry="3.4" fill="#fff"/>
<ellipse cx="579.4" cy="1196.9" rx="10.6" ry="3.1" fill="#fff"/>
<ellipse cx="477.1" cy="1197.7" rx="10.6" ry="3.0" fill="#fff"/>
<ellipse cx="628.7" cy="1198.7" rx="8.4" ry="2.5" fill="#fff"/>
<ellipse cx="492.5" cy="1199.1" rx="11.2" ry="3.2" fill="#fff"/>
<ellipse cx="549.3" cy="1197.5" rx="7.0" ry="3.1" fill="#fff"/>
<ellipse cx="495.6" cy="1198.1" rx="10.7" ry="3.3" fill="#fff"/>
<ellipse cx="514.0" cy="1195.5" rx="8.0" ry="3.4" fill="#fff"/>
<ellipse cx="561.7" cy="933.7" rx="10.3" ry="3.2" fill="#fff"/>
<ellipse cx="633.8" cy="930.8" rx="8.1" ry="3.8" fill="#fff"/>
<ellipse cx="583.7" cy="932.2" rx="11.6" ry="3.3" fill="#fff"/>
<ellipse cx="590.5" cy="934.4" rx="14.3" ry="3.9" fill="#fff"/>
<ellipse cx="554.5" cy="934.7" rx="10.5" ry="3.9" fill="#fff"/>
<ellipse cx="626.7" cy="933.4" rx="9.9" ry="4.2" fill="#fff"/>
<ellipse cx="578.1" cy="934.6" rx="12.2" ry="3.6" fill="#fff"/>
<ellipse cx="645.8" cy="932.6" rx="10.0" ry="4.8" fill="#fff"/>
<ellipse cx="640.4" cy="930.9" rx="6.7" ry="4.6" fill="#fff"/>
<ellipse cx="629.3" cy="931.9" rx="8.5" ry="4.1" fill="#fff"/>
<path d="M469.3,922 Q523.66,914 568.96,922 T650.5,918 L650.5,942 Q578.02,950 523.66,944 T469.3,941 Z" fill="#3BBAC2"/>
<ellipse cx="473.5" cy="920.8" rx="19.6" ry="5.0" fill="#3BBAC2" stroke="#2B9EA6" stroke-width="0.7"/>
<ellipse cx="475.9" cy="941.1" rx="12.3" ry="6.0" fill="#3BBAC2" stroke="#2B9EA6" stroke-width="0.7"/>
<ellipse cx="479.1" cy="942.9" rx="19.8" ry="4.7" fill="#3BBAC2" stroke="#2B9EA6" stroke-width="0.7"/>
<ellipse cx="483.4" cy="929.2" rx="14.2" ry="7.1" fill="#3BBAC2" stroke="#2B9EA6" stroke-width="0.7"/>
<ellipse cx="489.0" cy="932.5" rx="9.9" ry="4.9" fill="#3BBAC2" stroke="#2B9EA6" stroke-width="0.7"/>
<ellipse cx="492.3" cy="931.3" rx="14.8" ry="6.5" fill="#3BBAC2" stroke="#2B9EA6" stroke-width="0.7"/>
<ellipse cx="500.7" cy="924.6" rx="12.1" ry="5.9" fill="#3BBAC2" stroke="#2B9EA6" stroke-width="0.7"/>
<ellipse cx="505.3" cy="924.6" rx="11.5" ry="5.7" fill="#3BBAC2" stroke="#2B9EA6" stroke-width="0.7"/>
<ellipse cx="508.7" cy="923.8" rx="10.1" ry="6.9" fill="#3BBAC2" stroke="#2B9EA6" stroke-width="0.7"/>
<ellipse cx="512.7" cy="932.2" rx="8.2" ry="5.0" fill="#3BBAC2" stroke="#2B9EA6" stroke-width="0.7"/>
<ellipse cx="515.1" cy="926.2" rx="18.9" ry="8.0" fill="#3BBAC2" stroke="#2B9EA6" stroke-width="0.7"/>
<ellipse cx="523.0" cy="926.3" rx="14.8" ry="7.6" fill="#3BBAC2" stroke="#2B9EA6" stroke-width="0.7"/>
<ellipse cx="525.2" cy="927.2" rx="16.6" ry="5.4" fill="#3BBAC2" stroke="#2B9EA6" stroke-width="0.7"/>
<ellipse cx="530.3" cy="926.1" rx="17.9" ry="6.1" fill="#3BBAC2" stroke="#2B9EA6" stroke-width="0.7"/>
<ellipse cx="533.2" cy="916.4" rx="15.7" ry="4.5" fill="#3BBAC2" stroke="#2B9EA6" stroke-width="0.7"/>
<ellipse cx="540.3" cy="922.2" rx="14.4" ry="5.4" fill="#3BBAC2" stroke="#2B9EA6" stroke-width="0.7"/>
<ellipse cx="544.7" cy="919.7" rx="12.9" ry="6.6" fill="#3BBAC2" stroke="#2B9EA6" stroke-width="0.7"/>
<ellipse cx="547.5" cy="943.8" rx="19.9" ry="7.9" fill="#3BBAC2" stroke="#2B9EA6" stroke-width="0.7"/>
<ellipse cx="555.1" cy="942.4" rx="14.8" ry="7.4" fill="#3BBAC2" stroke="#2B9EA6" stroke-width="0.7"/>
<ellipse cx="557.2" cy="917.8" rx="19.1" ry="7.7" fill="#3BBAC2" stroke="#2B9EA6" stroke-width="0.7"/>
<ellipse cx="561.1" cy="926.5" rx="10.8" ry="6.9" fill="#3BBAC2" stroke="#2B9EA6" stroke-width="0.7"/>
<ellipse cx="565.2" cy="938.8" rx="8.4" ry="5.6" fill="#3BBAC2" stroke="#2B9EA6" stroke-width="0.7"/>
<ellipse cx="572.5" cy="929.6" rx="9.7" ry="4.1" fill="#3BBAC2" stroke="#2B9EA6" stroke-width="0.7"/>
<ellipse cx="576.6" cy="918.1" rx="11.4" ry="6.4" fill="#3BBAC2" stroke="#2B9EA6" stroke-width="0.7"/>
<ellipse cx="579.4" cy="917.0" rx="17.5" ry="6.9" fill="#3BBAC2" stroke="#2B9EA6" stroke-width="0.7"/>
<ellipse cx="585.3" cy="918.8" rx="13.8" ry="7.9" fill="#3BBAC2" stroke="#2B9EA6" stroke-width="0.7"/>
<ellipse cx="589.4" cy="923.1" rx="19.2" ry="5.4" fill="#3BBAC2" stroke="#2B9EA6" stroke-width="0.7"/>
<ellipse cx="594.0" cy="920.6" rx="18.3" ry="6.7" fill="#3BBAC2" stroke="#2B9EA6" stroke-width="0.7"/>
<ellipse cx="598.5" cy="929.8" rx="12.1" ry="5.8" fill="#3BBAC2" stroke="#2B9EA6" stroke-width="0.7"/>
<ellipse cx="603.0" cy="916.5" rx="16.6" ry="7.0" fill="#3BBAC2" stroke="#2B9EA6" stroke-width="0.7"/>
<ellipse cx="605.3" cy="919.8" rx="16.6" ry="5.4" fill="#3BBAC2" stroke="#2B9EA6" stroke-width="0.7"/>
<ellipse cx="610.4" cy="935.5" rx="19.8" ry="5.4" fill="#3BBAC2" stroke="#2B9EA6" stroke-width="0.7"/>
<ellipse cx="616.9" cy="931.4" rx="14.7" ry="6.4" fill="#3BBAC2" stroke="#2B9EA6" stroke-width="0.7"/>
<ellipse cx="622.9" cy="940.1" rx="18.7" ry="6.8" fill="#3BBAC2" stroke="#2B9EA6" stroke-width="0.7"/>
<ellipse cx="626.8" cy="937.2" rx="16.9" ry="6.7" fill="#3BBAC2" stroke="#2B9EA6" stroke-width="0.7"/>
<ellipse cx="631.3" cy="917.6" rx="10.0" ry="6.6" fill="#3BBAC2" stroke="#2B9EA6" stroke-width="0.7"/>
<ellipse cx="634.3" cy="922.4" rx="15.8" ry="4.8" fill="#3BBAC2" stroke="#2B9EA6" stroke-width="0.7"/>
<ellipse cx="640.3" cy="924.9" rx="19.0" ry="5.3" fill="#3BBAC2" stroke="#2B9EA6" stroke-width="0.7"/>
<ellipse cx="645.8" cy="925.2" rx="17.4" ry="4.5" fill="#3BBAC2" stroke="#2B9EA6" stroke-width="0.7"/>
<ellipse cx="648.2" cy="926.0" rx="18.3" ry="6.8" fill="#3BBAC2" stroke="#2B9EA6" stroke-width="0.7"/>
<path d="M466.0,885.0 L500.0,887.0 L538.0,898.0 L573.0,913.0 L611.0,901.0 L652.0,890.0 M466.0,887.7 L500.0,889.7 L538.0,900.7 L573.0,915.7 L611.0,903.7 L652.0,892.7 M466.0,890.3 L500.0,892.3 L538.0,903.3 L573.0,918.3 L611.0,906.3 L652.0,895.3 M466.0,893.0 L500.0,895.0 L538.0,906.0 L573.0,921.0 L611.0,909.0 L652.0,898.0 M466.0,917.0 L500.0,902.0 L538.0,909.0 L573.0,918.0 L611.0,912.0 L652.0,902.0 M466.0,919.7 L500.0,904.7 L538.0,911.7 L573.0,920.7 L611.0,914.7 L652.0,904.7 M466.0,922.3 L500.0,907.3 L538.0,914.3 L573.0,923.3 L611.0,917.3 L652.0,907.3 M466.0,925.0 L500.0,910.0 L538.0,917.0 L573.0,926.0 L611.0,920.0 L652.0,910.0" stroke="#767676" stroke-width="1.5" fill="none"/>
<circle cx="493.4" cy="886.0" r="5.4" fill="url(#cb)"/>
<circle cx="506.7" cy="890.0" r="5.4" fill="url(#cb)"/>
<circle cx="493.4" cy="899.4" r="5.4" fill="url(#cb)"/>
<circle cx="506.7" cy="899.4" r="5.4" fill="url(#cb)"/>
<circle cx="530.7" cy="902.0" r="5.4" fill="url(#cb)"/>
<circle cx="545.4" cy="900.7" r="5.4" fill="url(#cb)"/>
<circle cx="536.0" cy="914.0" r="5.4" fill="url(#cb)"/>
<circle cx="568.0" cy="916.7" r="5.4" fill="url(#cb)"/>
<circle cx="578.8" cy="922.0" r="5.4" fill="url(#cb)"/>
<circle cx="565.4" cy="920.7" r="5.4" fill="url(#cb)"/>
<circle cx="605.4" cy="903.4" r="5.4" fill="url(#cb)"/>
<circle cx="617.5" cy="902.0" r="5.4" fill="url(#cb)"/>
<circle cx="605.4" cy="912.7" r="5.4" fill="url(#cb)"/>
<circle cx="618.8" cy="914.0" r="5.4" fill="url(#cb)"/>
<circle cx="606.8" cy="924.7" r="5.4" fill="url(#cb)"/>
<circle cx="642.8" cy="892.7" r="5.4" fill="url(#cb)"/>
<circle cx="645.5" cy="904.7" r="5.4" fill="url(#cb)"/>
<circle cx="473.3" cy="922.0" r="5.4" fill="url(#cb)"/>
<circle cx="520.0" cy="912.0" r="5.4" fill="url(#cb)"/>
<ellipse cx="497.2" cy="974.4" rx="16" ry="18" fill="#3DBDC2" opacity="0.9" filter="url(#soft)"/>
<ellipse cx="551.8" cy="1017.0" rx="16" ry="18" fill="#3DBDC2" opacity="0.9" filter="url(#soft)"/>
<ellipse cx="639.8" cy="1025.0" rx="16" ry="18" fill="#3DBDC2" opacity="0.9" filter="url(#soft)"/>
<ellipse cx="607.8" cy="979.4" rx="11" ry="14" fill="#3DBDC2" opacity="0.85" filter="url(#soft)"/>
<ellipse cx="626.6" cy="1030.0" rx="11" ry="14" fill="#3DBDC2" opacity="0.85" filter="url(#soft)"/>
<path d="M505.2,1070.0L529.2,1088.8 M529.2,1088.8L550.5,1104.9 M571.8,1074.0L529.2,1088.8 M505.2,1070.0L490.5,1103.5 M529.2,1088.8L530.5,1135.5 M571.8,1074.0L594.6,1135.5 M530.5,1135.5L509.2,1166.0 M530.5,1135.5L571.8,1167.6 M571.8,1167.6L529.2,1183.6 M594.6,1135.5L597.2,1183.6 M594.6,1135.5L634.6,1162.2 M509.2,1166.0L529.2,1183.6 M490.5,1103.5L471.8,1134.0 M529.2,1183.6L597.2,1183.6" stroke="#E4EDC8" stroke-width="2.4" fill="none"/>
<path d="M497.2,971.4L493.2,966.0 M497.2,971.4L512.5,964.0 M497.2,971.4L488.5,988.1 M551.8,1014.0L543.1,1010.7 M551.8,1014.0L563.8,1000.0 M551.8,1014.0L563.8,1027.4 M505.2,1070.0L517.9,1059.4 M571.8,1074.0L573.8,1057.4" stroke="#E4EDC8" stroke-width="2.8" fill="none"/>
<path d="M493.2,966.0L489.2,960.7 M512.5,964.0L527.8,956.7 M488.5,988.1L479.8,1004.8 M543.1,1010.7L534.5,1007.4 M563.8,1000.0L575.8,986.0 M563.8,1027.4L575.8,1040.8 M517.9,1059.4L530.5,1048.8 M573.8,1057.4L575.8,1040.8" stroke="#D42020" stroke-width="2.8" fill="none"/>
<circle cx="489.2" cy="960.7" r="5.2" fill="url(#red)"/>
<circle cx="527.8" cy="956.7" r="5.2" fill="url(#red)"/>
<circle cx="479.8" cy="1004.8" r="5.2" fill="url(#red)"/>
<circle cx="534.5" cy="1007.4" r="5.2" fill="url(#red)"/>
<circle cx="575.8" cy="986.0" r="5.2" fill="url(#red)"/>
<circle cx="607.8" cy="975.4" r="5.2" fill="url(#red)"/>
<circle cx="626.6" cy="1026.0" r="5.2" fill="url(#red)"/>
<circle cx="575.8" cy="1040.8" r="5.2" fill="url(#red)"/>
<circle cx="530.5" cy="1048.8" r="5.2" fill="url(#red)"/>
<circle cx="517.2" cy="1055.5" r="5.2" fill="url(#red)"/>
<circle cx="471.8" cy="1054.0" r="5.2" fill="url(#red)"/>
<circle cx="497.2" cy="971.4" r="8" fill="url(#sph)"/>
<circle cx="551.8" cy="1014.0" r="8" fill="url(#sph)"/>
<circle cx="505.2" cy="1070.0" r="8" fill="url(#sph)"/>
<circle cx="571.8" cy="1074.0" r="8" fill="url(#sph)"/>
<circle cx="529.2" cy="1088.8" r="8" fill="url(#sph)"/>
<circle cx="490.5" cy="1103.5" r="8" fill="url(#sph)"/>
<circle cx="550.5" cy="1104.9" r="8" fill="url(#sph)"/>
<circle cx="530.5" cy="1135.5" r="8" fill="url(#sph)"/>
<circle cx="594.6" cy="1135.5" r="8" fill="url(#sph)"/>
<circle cx="509.2" cy="1166.0" r="8" fill="url(#sph)"/>
<circle cx="571.8" cy="1167.6" r="8" fill="url(#sph)"/>
<circle cx="529.2" cy="1183.6" r="8" fill="url(#sph)"/>
<circle cx="597.2" cy="1183.6" r="8" fill="url(#sph)"/>
<circle cx="634.6" cy="1162.2" r="8" fill="url(#sph)"/>
<circle cx="471.8" cy="1134.0" r="8" fill="url(#sph)"/>
<circle cx="639.8" cy="1022.0" r="8" fill="url(#sph)"/>
</g>
<line x1="807.1" y1="861" x2="1253.1" y2="861" stroke="#a8a8a8" stroke-width="0.9" stroke-dasharray="1.6 1.9"/>
<line x1="807.1" y1="926" x2="1253.1" y2="926" stroke="#a8a8a8" stroke-width="0.9" stroke-dasharray="1.6 1.9"/>
<line x1="807.1" y1="988.5" x2="1253.1" y2="988.5" stroke="#a8a8a8" stroke-width="0.9" stroke-dasharray="1.6 1.9"/>
<line x1="807.1" y1="1052.5" x2="1253.1" y2="1052.5" stroke="#a8a8a8" stroke-width="0.9" stroke-dasharray="1.6 1.9"/>
<line x1="807.1" y1="1116" x2="1253.1" y2="1116" stroke="#a8a8a8" stroke-width="0.9" stroke-dasharray="1.6 1.9"/>
<rect x="840.69" y="893.5" width="132.80999999999995" height="51.89999999999998" fill="url(#hO)" stroke="#E0782A" stroke-width="1.5"/>
<rect x="973.5" y="995.5" width="81.08400000000006" height="51.90000000000009" fill="url(#hG)" stroke="#14700F" stroke-width="1.5"/>
<rect x="973.5" y="1097.5" width="246.048" height="51.90000000000009" fill="url(#hP)" stroke="#C97FC0" stroke-width="1.5"/>
<line x1="973.5" y1="849" x2="973.5" y2="1180.2" stroke="#1F7A78" stroke-width="2.8"/>
<rect x="807.1" y="849" width="445.9999999999999" height="331.20000000000005" fill="none" stroke="#000" stroke-width="3.5"/>
<line x1="833.7" y1="1180.2" x2="833.7" y2="1187.7" stroke="#000" stroke-width="3"/>
<line x1="861.66" y1="1180.2" x2="861.66" y2="1184.2" stroke="#000" stroke-width="3"/>
<line x1="889.62" y1="1180.2" x2="889.62" y2="1184.2" stroke="#000" stroke-width="3"/>
<line x1="917.58" y1="1180.2" x2="917.58" y2="1184.2" stroke="#000" stroke-width="3"/>
<line x1="945.54" y1="1180.2" x2="945.54" y2="1184.2" stroke="#000" stroke-width="3"/>
<line x1="973.5" y1="1180.2" x2="973.5" y2="1187.7" stroke="#000" stroke-width="3"/>
<line x1="1001.46" y1="1180.2" x2="1001.46" y2="1184.2" stroke="#000" stroke-width="3"/>
<line x1="1029.42" y1="1180.2" x2="1029.42" y2="1184.2" stroke="#000" stroke-width="3"/>
<line x1="1057.38" y1="1180.2" x2="1057.38" y2="1184.2" stroke="#000" stroke-width="3"/>
<line x1="1085.34" y1="1180.2" x2="1085.34" y2="1184.2" stroke="#000" stroke-width="3"/>
<line x1="1113.3" y1="1180.2" x2="1113.3" y2="1187.7" stroke="#000" stroke-width="3"/>
<line x1="1141.26" y1="1180.2" x2="1141.26" y2="1184.2" stroke="#000" stroke-width="3"/>
<line x1="1169.22" y1="1180.2" x2="1169.22" y2="1184.2" stroke="#000" stroke-width="3"/>
<line x1="1197.18" y1="1180.2" x2="1197.18" y2="1184.2" stroke="#000" stroke-width="3"/>
<line x1="1225.14" y1="1180.2" x2="1225.14" y2="1184.2" stroke="#000" stroke-width="3"/>
<line x1="1253.1" y1="1180.2" x2="1253.1" y2="1187.7" stroke="#000" stroke-width="3"/>
<text transform="matrix(0.9625 0 0 0.9923 28.10 27.80)" font-size="36" fill="#000000" font-weight="normal" font-style="normal">A</text>
<text transform="matrix(1.0526 0 0 0.9923 151.84 232.90)" font-size="36" fill="#000000" font-weight="normal" font-style="normal">B</text>
<text transform="matrix(1.0364 0 0 1.0615 27.03 440.70)" font-size="36" fill="#000000" font-weight="normal" font-style="normal">C</text>
<text transform="matrix(1.0238 0 0 0.9692 713.13 438.90)" font-size="36" fill="#000000" font-weight="normal" font-style="normal">D</text>
<text transform="matrix(0.9500 0 0 0.9962 27.95 846.90)" font-size="36" fill="#000000" font-weight="normal" font-style="normal">E</text>
<text transform="matrix(1.0000 0 0 0.9962 713.20 846.90)" font-size="36" fill="#000000" font-weight="normal" font-style="normal">F</text>
<text transform="matrix(1.0368 0 0 1.0368 78.35 31.15)" font-size="27.5" fill="#000000" font-weight="normal" font-style="normal">4</text>
<text transform="matrix(1.0368 0 0 1.0368 79.38 78.25)" font-size="27.5" fill="#000000" font-weight="normal" font-style="normal">2</text>
<text transform="matrix(1.0368 0 0 1.0368 79.38 125.35)" font-size="27.5" fill="#000000" font-weight="normal" font-style="normal">0</text>
<text transform="matrix(1.0368 0 0 1.0368 70.05 172.45)" font-size="27.5" fill="#000000" font-weight="normal" font-style="normal">-2</text>
<text transform="matrix(1.0368 0 0 1.0368 69.02 219.55)" font-size="27.5" fill="#000000" font-weight="normal" font-style="normal">-4</text>
<text transform="matrix(1.0368 0 0 1.0368 70.05 266.65)" font-size="27.5" fill="#000000" font-weight="normal" font-style="normal">-6</text>
<text transform="matrix(1.0368 0 0 1.0368 70.05 313.75)" font-size="27.5" fill="#000000" font-weight="normal" font-style="normal">-8</text>
<text transform="matrix(1.0368 0 0 1.0368 53.46 362.20)" font-size="27.5" fill="#000000" font-weight="normal" font-style="normal">-10</text>
<text transform="matrix(0.9984 0 0 1.0500 552.40 403.00)" font-size="28" fill="#000000" font-weight="normal" font-style="normal">Reaction Coordinate</text>
<text transform="matrix(1.0698 0 0 1.0762 114.36 99.94)" font-size="21.5" fill="#000000" font-weight="normal" font-style="normal">NO<tspan font-size="15.48" dy="6.45">3</tspan><tspan font-size="15.48" dy="-15.70">-</tspan></text>
<text transform="matrix(1.0528 0 0 1.0762 244.35 75.64)" font-size="21.5" fill="#000000" font-weight="normal" font-style="normal">*NO<tspan font-size="15.48" dy="6.45">3</tspan><tspan font-size="15.48" dy="-15.70">-</tspan></text>
<text transform="matrix(1.0000 0 0 1.0810 384.80 99.51)" font-size="21.5" fill="#000000" font-weight="normal" font-style="normal">*NO<tspan font-size="15.48" dy="6.45">2</tspan></text>
<text transform="matrix(1.0359 0 0 0.9600 523.56 150.70)" font-size="21.5" fill="#000000" font-weight="normal" font-style="normal">*NO</text>
<text transform="matrix(1.0571 0 0 1.0000 664.74 134.00)" font-size="21.5" fill="#000000" font-weight="normal" font-style="normal">*N</text>
<text transform="matrix(1.0432 0 0 1.0000 792.26 187.00)" font-size="21.5" fill="#000000" font-weight="normal" font-style="normal">*NH</text>
<text transform="matrix(1.0370 0 0 1.1095 919.46 209.64)" font-size="21.5" fill="#000000" font-weight="normal" font-style="normal">*NH<tspan font-size="15.48" dy="6.45">2</tspan></text>
<text transform="matrix(1.0435 0 0 1.0524 1059.66 228.39)" font-size="21.5" fill="#000000" font-weight="normal" font-style="normal">*NH<tspan font-size="15.48" dy="6.45">3</tspan></text>
<text transform="matrix(1.0676 0 0 1.0524 1190.56 243.39)" font-size="21.5" fill="#000000" font-weight="normal" font-style="normal">NH<tspan font-size="15.48" dy="6.45">3</tspan></text>
<text transform="matrix(1.0172 0 0 0.9417 224.78 112.50)" font-size="16" fill="#E0782A" font-weight="normal" font-style="normal">1.26</text>
<text transform="matrix(1.0483 0 0 0.9500 578.95 148.90)" font-size="16" fill="#14700F" font-weight="normal" font-style="normal">0.91</text>
<text transform="matrix(1.0517 0 0 1.0250 1157.45 292.30)" font-size="16" fill="#C97FC0" font-weight="normal" font-style="normal">1.17</text>
<text transform="matrix(0.9934 0 0 0.9950 1103.21 53.92)" font-size="22" fill="#000000" font-weight="normal" font-style="normal">Fe<tspan stroke="#000000" stroke-width="0.55">@</tspan>C</text>
<text transform="matrix(1.0069 0 0 0.9913 1103.19 80.76)" font-size="22" fill="#000000" font-weight="normal" font-style="normal">Fe<tspan stroke="#000000" stroke-width="0.55">@</tspan>N<tspan font-size="15.84" dy="6.60">10</tspan><tspan dy="-6.60">-C</tspan></text>
<text transform="matrix(1.0069 0 0 0.9913 1103.19 114.56)" font-size="22" fill="#000000" font-weight="normal" font-style="normal">Fe<tspan stroke="#000000" stroke-width="0.55">@</tspan>N<tspan font-size="15.84" dy="6.60">20</tspan><tspan dy="-6.60">-C</tspan></text>
<text transform="matrix(0.9886 0 0 1.0333 264.61 328.53)" font-size="25" fill="#F0B428" font-weight="bold" font-style="normal">Fe<tspan stroke="#F0B428" stroke-width="1.1">@</tspan>C</text>
<text transform="matrix(1.0026 0 0 1.0333 356.79 328.53)" font-size="25" fill="#3F7D20" font-weight="bold" font-style="normal">Fe<tspan stroke="#3F7D20" stroke-width="1.1">@</tspan>N<tspan font-size="18.00" dy="4.50">10</tspan><tspan dy="-4.50">-C</tspan></text>
<text transform="matrix(1.0026 0 0 1.0000 496.49 328.70)" font-size="25" fill="#D88CD2" font-weight="bold" font-style="normal">Fe<tspan stroke="#D88CD2" stroke-width="1.1">@</tspan>N<tspan font-size="18.00" dy="4.50">20</tspan><tspan dy="-4.50">-C</tspan></text>
<text transform="matrix(1.0282 0 0 1.0792 83.84 493.98)" font-size="28" fill="#E0782A" font-weight="normal" font-style="normal">Fe<tspan stroke="#E0782A" stroke-width="0.55">@</tspan>C</text>
<text transform="matrix(1.0238 0 0 1.0357 29.95 604.01)" font-size="28" fill="#14700F" font-weight="normal" font-style="normal">Fe<tspan stroke="#14700F" stroke-width="0.55">@</tspan>N<tspan font-size="20.16" dy="8.40">10</tspan><tspan dy="-8.40">-C</tspan></text>
<text transform="matrix(1.0123 0 0 0.9964 31.48 705.93)" font-size="28" fill="#C97FC0" font-weight="normal" font-style="normal">Fe<tspan stroke="#C97FC0" stroke-width="0.55">@</tspan>N<tspan font-size="20.16" dy="8.40">20</tspan><tspan dy="-8.40">-C</tspan></text>
<text transform="matrix(1.1000 0 0 1.0357 568.40 451.60)" font-size="20" fill="#000000" font-weight="normal" font-style="normal">PDS</text>
<text transform="matrix(0.9932 0 0 1.0533 511.31 492.80)" font-size="21.5" fill="#E0782A" font-weight="normal" font-style="normal">1.26 eV</text>
<text transform="matrix(1.0041 0 0 1.0267 428.20 599.10)" font-size="21.5" fill="#14700F" font-weight="normal" font-style="normal">0.91 eV</text>
<text transform="matrix(0.9861 0 0 1.0333 495.03 700.10)" font-size="21.5" fill="#C97FC0" font-weight="normal" font-style="normal">1.17 eV</text>
<text transform="matrix(1.0179 0 0 1.0318 244.96 488.08)" font-size="22" fill="#3C3A8A" font-weight="normal" font-style="normal">NO<tspan font-size="15.84" dy="6.60">3</tspan></text>
<text transform="matrix(0.9653 0 0 1.0000 338.13 489.50)" font-size="22" fill="#3C3A8A" font-weight="normal" font-style="normal">*NO<tspan font-size="15.84" dy="6.60">3</tspan></text>
<text transform="matrix(0.9700 0 0 0.9667 237.23 595.70)" font-size="22" fill="#3C3A8A" font-weight="normal" font-style="normal">*NO</text>
<text transform="matrix(1.0318 0 0 0.9667 336.27 595.70)" font-size="22" fill="#3C3A8A" font-weight="normal" font-style="normal">*N</text>
<text transform="matrix(1.0064 0 0 1.0045 237.19 710.87)" font-size="22" fill="#3C3A8A" font-weight="normal" font-style="normal">*NH<tspan font-size="15.84" dy="6.60">3</tspan></text>
<text transform="matrix(0.9974 0 0 1.0045 344.71 707.67)" font-size="22" fill="#3C3A8A" font-weight="normal" font-style="normal">NH<tspan font-size="15.84" dy="6.60">3</tspan></text>
<text transform="matrix(1.0543 0 0 1.1167 161.20 788.70)" font-size="26.5" fill="#000000" font-weight="normal" font-style="normal">0.0</text>
<text transform="matrix(1.0543 0 0 1.1167 211.16 788.70)" font-size="26.5" fill="#000000" font-weight="normal" font-style="normal">0.2</text>
<text transform="matrix(1.0543 0 0 1.1167 260.08 788.70)" font-size="26.5" fill="#000000" font-weight="normal" font-style="normal">0.4</text>
<text transform="matrix(1.0543 0 0 1.1167 309.52 788.70)" font-size="26.5" fill="#000000" font-weight="normal" font-style="normal">0.6</text>
<text transform="matrix(1.0543 0 0 1.1167 358.96 788.70)" font-size="26.5" fill="#000000" font-weight="normal" font-style="normal">0.8</text>
<text transform="matrix(1.0543 0 0 1.1167 407.87 788.70)" font-size="26.5" fill="#000000" font-weight="normal" font-style="normal">1.0</text>
<text transform="matrix(1.0543 0 0 1.1167 457.84 788.70)" font-size="26.5" fill="#000000" font-weight="normal" font-style="normal">1.2</text>
<text transform="matrix(1.0543 0 0 1.1167 506.75 788.70)" font-size="26.5" fill="#000000" font-weight="normal" font-style="normal">1.4</text>
<text transform="matrix(1.0543 0 0 1.1167 556.19 788.70)" font-size="26.5" fill="#000000" font-weight="normal" font-style="normal">1.6</text>
<text transform="matrix(1.0543 0 0 1.1167 605.63 788.70)" font-size="26.5" fill="#000000" font-weight="normal" font-style="normal">1.8</text>
<text transform="matrix(0.9986 0 0 0.9462 260.60 819.92)" font-size="28" fill="#000000" font-weight="normal" font-style="normal">Adsorption energy (eV)</text>
<text transform="matrix(1.0500 0 0 1.0111 776.25 433.05)" font-size="25.5" fill="#000000" font-weight="normal" font-style="normal">1</text>
<text transform="matrix(1.0500 0 0 1.0111 777.85 499.40)" font-size="25.5" fill="#000000" font-weight="normal" font-style="normal">0</text>
<text transform="matrix(1.0500 0 0 1.0111 766.90 565.75)" font-size="25.5" fill="#000000" font-weight="normal" font-style="normal">-1</text>
<text transform="matrix(1.0500 0 0 1.0111 769.45 632.10)" font-size="25.5" fill="#000000" font-weight="normal" font-style="normal">-2</text>
<text transform="matrix(1.0500 0 0 1.0111 768.40 698.45)" font-size="25.5" fill="#000000" font-weight="normal" font-style="normal">-3</text>
<text transform="matrix(1.0500 0 0 1.0111 768.40 764.80)" font-size="25.5" fill="#000000" font-weight="normal" font-style="normal">-4</text>
<text transform="matrix(0.9972 0 0 1.0400 901.71 805.80)" font-size="28" fill="#000000" font-weight="normal" font-style="normal">Reaction Coordinate</text>
<text transform="matrix(1.0147 0 0 1.0143 811.09 478.80)" font-size="22" fill="#000000" font-weight="normal" font-style="normal">*+H<tspan font-size="15.84" dy="-12.10">+</tspan><tspan dy="12.10">+e</tspan><tspan font-size="15.84" dy="-12.10">-</tspan></text>
<text transform="matrix(1.0227 0 0 1.0933 1015.68 497.00)" font-size="22" fill="#000000" font-weight="normal" font-style="normal">*H</text>
<text transform="matrix(1.0057 0 0 0.9391 1178.69 473.03)" font-size="22" fill="#000000" font-weight="normal" font-style="normal">1/2H<tspan font-size="15.84" dy="6.60">2</tspan></text>
<text transform="matrix(1.0033 0 0 0.9900 1138.49 675.34)" font-size="22" fill="#000000" font-weight="normal" font-style="normal">Fe<tspan stroke="#000000" stroke-width="0.55">@</tspan>C</text>
<text transform="matrix(1.0078 0 0 0.9870 1138.48 702.39)" font-size="22" fill="#000000" font-weight="normal" font-style="normal">Fe<tspan stroke="#000000" stroke-width="0.55">@</tspan>N<tspan font-size="15.84" dy="6.60">10</tspan><tspan dy="-6.60">-C</tspan></text>
<text transform="matrix(1.0078 0 0 0.9870 1138.48 736.49)" font-size="22" fill="#000000" font-weight="normal" font-style="normal">Fe<tspan stroke="#000000" stroke-width="0.55">@</tspan>N<tspan font-size="15.84" dy="6.60">20</tspan><tspan dy="-6.60">-C</tspan></text>
<text transform="matrix(1.0591 0 0 1.0810 111.78 1242.28)" font-size="24" fill="#000000" font-weight="bold" font-style="normal">Fe<tspan stroke="#000000" stroke-width="1.1">@</tspan>C</text>
<text transform="matrix(1.0324 0 0 1.0810 284.14 1242.28)" font-size="24" fill="#000000" font-weight="bold" font-style="normal">Fe<tspan stroke="#000000" stroke-width="1.1">@</tspan>N<tspan font-size="17.28" dy="4.32">10</tspan><tspan dy="-4.32">-C</tspan></text>
<text transform="matrix(1.0405 0 0 1.0810 493.02 1242.28)" font-size="24" fill="#000000" font-weight="bold" font-style="normal">Fe<tspan stroke="#000000" stroke-width="1.1">@</tspan>N<tspan font-size="17.28" dy="4.32">20</tspan><tspan dy="-4.32">-C</tspan></text>
<text transform="matrix(1.0205 0 0 1.0250 708.96 917.30)" font-size="28" fill="#E0782A" font-weight="normal" font-style="normal">Fe<tspan stroke="#E0782A" stroke-width="0.55">@</tspan>C</text>
<text transform="matrix(1.0300 0 0 1.0357 654.64 1028.01)" font-size="28" fill="#14700F" font-weight="normal" font-style="normal">Fe<tspan stroke="#14700F" stroke-width="0.55">@</tspan>N<tspan font-size="20.16" dy="8.40">10</tspan><tspan dy="-8.40">-C</tspan></text>
<text transform="matrix(1.0208 0 0 0.9929 655.86 1129.86)" font-size="28" fill="#C97FC0" font-weight="normal" font-style="normal">Fe<tspan stroke="#C97FC0" stroke-width="0.55">@</tspan>N<tspan font-size="20.16" dy="8.40">20</tspan><tspan dy="-8.40">-C</tspan></text>
<text transform="matrix(1.0041 0 0 0.9933 863.70 879.40)" font-size="21.5" fill="#E0782A" font-weight="normal" font-style="normal">0.95 eV</text>
<text transform="matrix(1.0150 0 0 1.0267 977.88 980.40)" font-size="21.5" fill="#14700F" font-weight="normal" font-style="normal">-0.58 eV</text>
<text transform="matrix(1.0050 0 0 1.0600 1055.99 1083.30)" font-size="21.5" fill="#C97FC0" font-weight="normal" font-style="normal">-1.76 eV</text>
<text transform="matrix(1.0923 0 0 1.0526 824.41 1213.00)" font-size="27" fill="#000000" font-weight="normal" font-style="normal">1</text>
<text transform="matrix(1.0923 0 0 1.0526 965.31 1213.00)" font-size="27" fill="#000000" font-weight="normal" font-style="normal">0</text>
<text transform="matrix(1.0923 0 0 1.0526 1097.84 1213.00)" font-size="27" fill="#000000" font-weight="normal" font-style="normal">-1</text>
<text transform="matrix(1.0923 0 0 1.0526 1239.49 1213.00)" font-size="27" fill="#000000" font-weight="normal" font-style="normal">-2</text>
<text transform="matrix(0.9993 0 0 1.0000 885.40 1244.00)" font-size="28" fill="#000000" font-weight="normal" font-style="normal">Adsorption energy (eV)</text>
<g transform="translate(24.9,251.2) rotate(-90)"><path d="M0.7,-0.7 L17.2,-0.7 L8.95,-15.2 Z" fill="none" stroke="#000" stroke-width="1.4" stroke-linejoin="miter"/><text transform="matrix(0.9850 0 0 1.0077 20.71 -0.35)" font-size="28" fill="#000000"><tspan font-style="italic">G</tspan> (eV)</text></g>
<g transform="translate(739.3,653.6) rotate(-90)"><path d="M0.7,-0.7 L17.2,-0.7 L8.95,-15.2 Z" fill="none" stroke="#000" stroke-width="1.4" stroke-linejoin="miter"/><text transform="matrix(0.9788 0 0 1.0038 20.82 -0.22)" font-size="28" fill="#000000"><tspan font-style="italic">G</tspan> (eV)</text></g>
</svg></body></html>
